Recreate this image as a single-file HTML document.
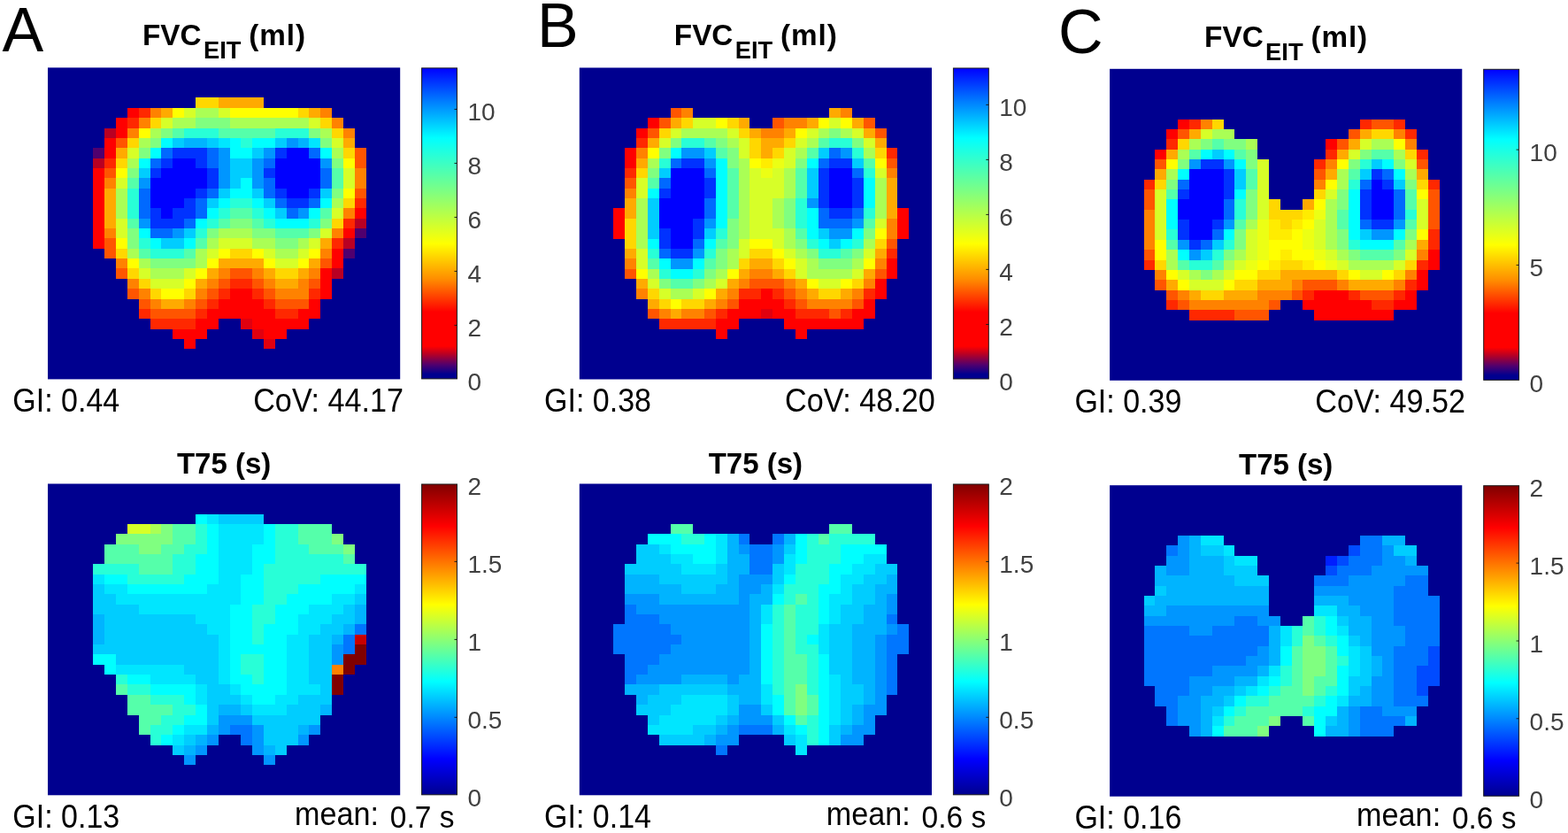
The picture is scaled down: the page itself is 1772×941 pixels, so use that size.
<!DOCTYPE html>
<html lang="en"><head><meta charset="utf-8"><title>EIT maps</title>
<style>
html,body{margin:0;padding:0;background:#fff;}
body{width:1772px;height:941px;overflow:hidden;font-family:"Liberation Sans",Arial,sans-serif;}
svg{display:block;}
text{font-family:"Liberation Sans",Arial,sans-serif;}
</style></head><body>
<svg width="1772" height="941" viewBox="0 0 1772 941" font-family="'Liberation Sans', Arial, sans-serif">
<defs><linearGradient id="gf" x1="0" y1="1" x2="0" y2="0"><stop offset="0.0" stop-color="#00008f"/><stop offset="0.015" stop-color="#00008f"/><stop offset="0.045" stop-color="#50006e"/><stop offset="0.08" stop-color="#b90023"/><stop offset="0.105" stop-color="#ff0000"/><stop offset="0.215" stop-color="#ff0000"/><stop offset="0.32" stop-color="#ff8c00"/><stop offset="0.435" stop-color="#ffff00"/><stop offset="0.6" stop-color="#80ff80"/><stop offset="0.775" stop-color="#00ffff"/><stop offset="0.89" stop-color="#0080ff"/><stop offset="1.0" stop-color="#0000ff"/></linearGradient><linearGradient id="gj" x1="0" y1="1" x2="0" y2="0"><stop offset="0.0" stop-color="#00008f"/><stop offset="0.115" stop-color="#0000ff"/><stop offset="0.365" stop-color="#00ffff"/><stop offset="0.612" stop-color="#ffff00"/><stop offset="0.865" stop-color="#ff0000"/><stop offset="1.0" stop-color="#800000"/></linearGradient></defs>
<rect width="1772" height="941" fill="#fff"/>
<g>
<rect x="54.0" y="76.4" width="398.2" height="352.0" fill="#00008f"/>
<rect x="221" y="110" width="26" height="12" fill="#ffd700"/>
<rect x="247" y="110" width="51" height="12" fill="#ffaa00"/>
<rect x="144" y="122" width="13" height="11" fill="#ff0000"/>
<rect x="157" y="122" width="13" height="11" fill="#ff2800"/>
<rect x="170" y="122" width="12" height="11" fill="#ff8200"/>
<rect x="182" y="122" width="13" height="11" fill="#ffaa00"/>
<rect x="195" y="122" width="13" height="11" fill="#ffff00"/>
<rect x="208" y="122" width="13" height="11" fill="#d7ff28"/>
<rect x="221" y="122" width="26" height="11" fill="#aaff55"/>
<rect x="247" y="122" width="13" height="11" fill="#d7ff28"/>
<rect x="260" y="122" width="77" height="11" fill="#ffff00"/>
<rect x="337" y="122" width="12" height="11" fill="#ffd700"/>
<rect x="349" y="122" width="13" height="11" fill="#ffaa00"/>
<rect x="362" y="122" width="13" height="11" fill="#ff8200"/>
<rect x="131" y="133" width="13" height="12" fill="#ff0000"/>
<rect x="144" y="133" width="13" height="12" fill="#ff2800"/>
<rect x="157" y="133" width="13" height="12" fill="#ff8200"/>
<rect x="170" y="133" width="12" height="12" fill="#ffd700"/>
<rect x="182" y="133" width="13" height="12" fill="#d7ff28"/>
<rect x="195" y="133" width="26" height="12" fill="#aaff55"/>
<rect x="221" y="133" width="39" height="12" fill="#80ff80"/>
<rect x="260" y="133" width="89" height="12" fill="#aaff55"/>
<rect x="349" y="133" width="13" height="12" fill="#d7ff28"/>
<rect x="362" y="133" width="13" height="12" fill="#ffd700"/>
<rect x="375" y="133" width="13" height="12" fill="#ff8200"/>
<rect x="118" y="145" width="13" height="11" fill="#b90023"/>
<rect x="131" y="145" width="13" height="11" fill="#ff0000"/>
<rect x="144" y="145" width="13" height="11" fill="#ff8200"/>
<rect x="157" y="145" width="13" height="11" fill="#ffff00"/>
<rect x="170" y="145" width="12" height="11" fill="#aaff55"/>
<rect x="182" y="145" width="13" height="11" fill="#80ff80"/>
<rect x="195" y="145" width="13" height="11" fill="#55ffaa"/>
<rect x="208" y="145" width="39" height="11" fill="#28ffd7"/>
<rect x="247" y="145" width="64" height="11" fill="#55ffaa"/>
<rect x="311" y="145" width="38" height="11" fill="#28ffd7"/>
<rect x="349" y="145" width="13" height="11" fill="#80ff80"/>
<rect x="362" y="145" width="13" height="11" fill="#aaff55"/>
<rect x="375" y="145" width="13" height="11" fill="#ffd700"/>
<rect x="388" y="145" width="13" height="11" fill="#ff8200"/>
<rect x="118" y="156" width="13" height="11" fill="#ff0000"/>
<rect x="131" y="156" width="13" height="11" fill="#ff5500"/>
<rect x="144" y="156" width="13" height="11" fill="#ffd700"/>
<rect x="157" y="156" width="13" height="11" fill="#aaff55"/>
<rect x="170" y="156" width="12" height="11" fill="#80ff80"/>
<rect x="182" y="156" width="13" height="11" fill="#00ffff"/>
<rect x="195" y="156" width="13" height="11" fill="#00cdff"/>
<rect x="208" y="156" width="26" height="11" fill="#00b4ff"/>
<rect x="234" y="156" width="13" height="11" fill="#00cdff"/>
<rect x="247" y="156" width="13" height="11" fill="#00e6ff"/>
<rect x="260" y="156" width="12" height="11" fill="#00ffff"/>
<rect x="272" y="156" width="13" height="11" fill="#28ffd7"/>
<rect x="285" y="156" width="26" height="11" fill="#00ffff"/>
<rect x="311" y="156" width="13" height="11" fill="#00cdff"/>
<rect x="324" y="156" width="13" height="11" fill="#0096ff"/>
<rect x="337" y="156" width="12" height="11" fill="#00b4ff"/>
<rect x="349" y="156" width="13" height="11" fill="#00e6ff"/>
<rect x="362" y="156" width="13" height="11" fill="#80ff80"/>
<rect x="375" y="156" width="13" height="11" fill="#d7ff28"/>
<rect x="388" y="156" width="13" height="11" fill="#ffaa00"/>
<rect x="105" y="167" width="13" height="12" fill="#50006e"/>
<rect x="118" y="167" width="13" height="12" fill="#ff0000"/>
<rect x="131" y="167" width="13" height="12" fill="#ffaa00"/>
<rect x="144" y="167" width="13" height="12" fill="#d7ff28"/>
<rect x="157" y="167" width="13" height="12" fill="#80ff80"/>
<rect x="170" y="167" width="12" height="12" fill="#00ffff"/>
<rect x="182" y="167" width="13" height="12" fill="#0069ff"/>
<rect x="195" y="167" width="39" height="12" fill="#0032ff"/>
<rect x="234" y="167" width="13" height="12" fill="#0069ff"/>
<rect x="247" y="167" width="13" height="12" fill="#0096ff"/>
<rect x="260" y="167" width="25" height="12" fill="#00ffff"/>
<rect x="285" y="167" width="13" height="12" fill="#00cdff"/>
<rect x="298" y="167" width="13" height="12" fill="#0096ff"/>
<rect x="311" y="167" width="13" height="12" fill="#0032ff"/>
<rect x="324" y="167" width="25" height="12" fill="#0000ff"/>
<rect x="349" y="167" width="13" height="12" fill="#0069ff"/>
<rect x="362" y="167" width="13" height="12" fill="#00ffff"/>
<rect x="375" y="167" width="13" height="12" fill="#aaff55"/>
<rect x="388" y="167" width="13" height="12" fill="#ffd700"/>
<rect x="401" y="167" width="13" height="12" fill="#ff5500"/>
<rect x="105" y="179" width="13" height="11" fill="#b90023"/>
<rect x="118" y="179" width="13" height="11" fill="#ff2800"/>
<rect x="131" y="179" width="13" height="11" fill="#ffd700"/>
<rect x="144" y="179" width="13" height="11" fill="#aaff55"/>
<rect x="157" y="179" width="13" height="11" fill="#00ffff"/>
<rect x="170" y="179" width="12" height="11" fill="#0069ff"/>
<rect x="182" y="179" width="13" height="11" fill="#0032ff"/>
<rect x="195" y="179" width="26" height="11" fill="#0000ff"/>
<rect x="221" y="179" width="13" height="11" fill="#0032ff"/>
<rect x="234" y="179" width="13" height="11" fill="#0069ff"/>
<rect x="247" y="179" width="13" height="11" fill="#0096ff"/>
<rect x="260" y="179" width="25" height="11" fill="#00cdff"/>
<rect x="285" y="179" width="13" height="11" fill="#0096ff"/>
<rect x="298" y="179" width="13" height="11" fill="#0069ff"/>
<rect x="311" y="179" width="51" height="11" fill="#0000ff"/>
<rect x="362" y="179" width="13" height="11" fill="#0096ff"/>
<rect x="375" y="179" width="13" height="11" fill="#80ff80"/>
<rect x="388" y="179" width="13" height="11" fill="#ffff00"/>
<rect x="401" y="179" width="13" height="11" fill="#ff5500"/>
<rect x="105" y="190" width="13" height="11" fill="#ff0000"/>
<rect x="118" y="190" width="13" height="11" fill="#ff5500"/>
<rect x="131" y="190" width="13" height="11" fill="#ffff00"/>
<rect x="144" y="190" width="13" height="11" fill="#80ff80"/>
<rect x="157" y="190" width="13" height="11" fill="#00cdff"/>
<rect x="170" y="190" width="12" height="11" fill="#0032ff"/>
<rect x="182" y="190" width="52" height="11" fill="#0000ff"/>
<rect x="234" y="190" width="13" height="11" fill="#0032ff"/>
<rect x="247" y="190" width="13" height="11" fill="#0096ff"/>
<rect x="260" y="190" width="25" height="11" fill="#00cdff"/>
<rect x="285" y="190" width="13" height="11" fill="#0096ff"/>
<rect x="298" y="190" width="13" height="11" fill="#0032ff"/>
<rect x="311" y="190" width="51" height="11" fill="#0000ff"/>
<rect x="362" y="190" width="13" height="11" fill="#0069ff"/>
<rect x="375" y="190" width="13" height="11" fill="#55ffaa"/>
<rect x="388" y="190" width="13" height="11" fill="#d7ff28"/>
<rect x="401" y="190" width="13" height="11" fill="#ff8200"/>
<rect x="105" y="201" width="13" height="12" fill="#ff0000"/>
<rect x="118" y="201" width="13" height="12" fill="#ff8200"/>
<rect x="131" y="201" width="13" height="12" fill="#d7ff28"/>
<rect x="144" y="201" width="13" height="12" fill="#55ffaa"/>
<rect x="157" y="201" width="13" height="12" fill="#0096ff"/>
<rect x="170" y="201" width="64" height="12" fill="#0000ff"/>
<rect x="234" y="201" width="13" height="12" fill="#0032ff"/>
<rect x="247" y="201" width="13" height="12" fill="#0096ff"/>
<rect x="260" y="201" width="12" height="12" fill="#00cdff"/>
<rect x="272" y="201" width="13" height="12" fill="#00ffff"/>
<rect x="285" y="201" width="13" height="12" fill="#0096ff"/>
<rect x="298" y="201" width="13" height="12" fill="#0069ff"/>
<rect x="311" y="201" width="51" height="12" fill="#0000ff"/>
<rect x="362" y="201" width="13" height="12" fill="#0069ff"/>
<rect x="375" y="201" width="13" height="12" fill="#55ffaa"/>
<rect x="388" y="201" width="13" height="12" fill="#d7ff28"/>
<rect x="401" y="201" width="13" height="12" fill="#ff8200"/>
<rect x="105" y="213" width="13" height="11" fill="#ff0000"/>
<rect x="118" y="213" width="13" height="11" fill="#ffaa00"/>
<rect x="131" y="213" width="13" height="11" fill="#aaff55"/>
<rect x="144" y="213" width="13" height="11" fill="#28ffd7"/>
<rect x="157" y="213" width="13" height="11" fill="#0069ff"/>
<rect x="170" y="213" width="51" height="11" fill="#0000ff"/>
<rect x="221" y="213" width="13" height="11" fill="#0032ff"/>
<rect x="234" y="213" width="13" height="11" fill="#0069ff"/>
<rect x="247" y="213" width="13" height="11" fill="#00cdff"/>
<rect x="260" y="213" width="25" height="11" fill="#00ffff"/>
<rect x="285" y="213" width="13" height="11" fill="#00cdff"/>
<rect x="298" y="213" width="13" height="11" fill="#0069ff"/>
<rect x="311" y="213" width="13" height="11" fill="#0032ff"/>
<rect x="324" y="213" width="25" height="11" fill="#0000ff"/>
<rect x="349" y="213" width="13" height="11" fill="#0032ff"/>
<rect x="362" y="213" width="13" height="11" fill="#00cdff"/>
<rect x="375" y="213" width="13" height="11" fill="#80ff80"/>
<rect x="388" y="213" width="13" height="11" fill="#ffff00"/>
<rect x="401" y="213" width="13" height="11" fill="#ff5500"/>
<rect x="105" y="224" width="13" height="11" fill="#ff0000"/>
<rect x="118" y="224" width="13" height="11" fill="#ffaa00"/>
<rect x="131" y="224" width="13" height="11" fill="#aaff55"/>
<rect x="144" y="224" width="13" height="11" fill="#28ffd7"/>
<rect x="157" y="224" width="13" height="11" fill="#0069ff"/>
<rect x="170" y="224" width="38" height="11" fill="#0000ff"/>
<rect x="208" y="224" width="13" height="11" fill="#0032ff"/>
<rect x="221" y="224" width="13" height="11" fill="#0069ff"/>
<rect x="234" y="224" width="13" height="11" fill="#00cdff"/>
<rect x="247" y="224" width="13" height="11" fill="#00ffff"/>
<rect x="260" y="224" width="25" height="11" fill="#28ffd7"/>
<rect x="285" y="224" width="13" height="11" fill="#00ffff"/>
<rect x="298" y="224" width="13" height="11" fill="#00cdff"/>
<rect x="311" y="224" width="13" height="11" fill="#0069ff"/>
<rect x="324" y="224" width="25" height="11" fill="#0032ff"/>
<rect x="349" y="224" width="13" height="11" fill="#0069ff"/>
<rect x="362" y="224" width="13" height="11" fill="#00ffff"/>
<rect x="375" y="224" width="13" height="11" fill="#aaff55"/>
<rect x="388" y="224" width="13" height="11" fill="#ffd700"/>
<rect x="401" y="224" width="13" height="11" fill="#ff2800"/>
<rect x="105" y="235" width="13" height="12" fill="#ff0000"/>
<rect x="118" y="235" width="13" height="12" fill="#ffaa00"/>
<rect x="131" y="235" width="13" height="12" fill="#aaff55"/>
<rect x="144" y="235" width="13" height="12" fill="#28ffd7"/>
<rect x="157" y="235" width="13" height="12" fill="#0069ff"/>
<rect x="170" y="235" width="12" height="12" fill="#0032ff"/>
<rect x="182" y="235" width="13" height="12" fill="#0000ff"/>
<rect x="195" y="235" width="26" height="12" fill="#0032ff"/>
<rect x="221" y="235" width="13" height="12" fill="#0069ff"/>
<rect x="234" y="235" width="13" height="12" fill="#00ffff"/>
<rect x="247" y="235" width="13" height="12" fill="#28ffd7"/>
<rect x="260" y="235" width="25" height="12" fill="#55ffaa"/>
<rect x="285" y="235" width="13" height="12" fill="#28ffd7"/>
<rect x="298" y="235" width="13" height="12" fill="#00ffff"/>
<rect x="311" y="235" width="13" height="12" fill="#00cdff"/>
<rect x="324" y="235" width="13" height="12" fill="#0069ff"/>
<rect x="337" y="235" width="12" height="12" fill="#0096ff"/>
<rect x="349" y="235" width="13" height="12" fill="#00ffff"/>
<rect x="362" y="235" width="13" height="12" fill="#55ffaa"/>
<rect x="375" y="235" width="13" height="12" fill="#d7ff28"/>
<rect x="388" y="235" width="13" height="12" fill="#ff8200"/>
<rect x="401" y="235" width="13" height="12" fill="#ff0000"/>
<rect x="105" y="247" width="13" height="11" fill="#ff0000"/>
<rect x="118" y="247" width="13" height="11" fill="#ffaa00"/>
<rect x="131" y="247" width="13" height="11" fill="#d7ff28"/>
<rect x="144" y="247" width="13" height="11" fill="#55ffaa"/>
<rect x="157" y="247" width="13" height="11" fill="#0096ff"/>
<rect x="170" y="247" width="38" height="11" fill="#0032ff"/>
<rect x="208" y="247" width="13" height="11" fill="#0069ff"/>
<rect x="221" y="247" width="13" height="11" fill="#00ffff"/>
<rect x="234" y="247" width="13" height="11" fill="#28ffd7"/>
<rect x="247" y="247" width="13" height="11" fill="#55ffaa"/>
<rect x="260" y="247" width="25" height="11" fill="#80ff80"/>
<rect x="285" y="247" width="13" height="11" fill="#55ffaa"/>
<rect x="298" y="247" width="13" height="11" fill="#28ffd7"/>
<rect x="311" y="247" width="38" height="11" fill="#00ffff"/>
<rect x="349" y="247" width="13" height="11" fill="#28ffd7"/>
<rect x="362" y="247" width="13" height="11" fill="#80ff80"/>
<rect x="375" y="247" width="13" height="11" fill="#ffd700"/>
<rect x="388" y="247" width="13" height="11" fill="#ff2800"/>
<rect x="401" y="247" width="13" height="11" fill="#b90023"/>
<rect x="105" y="258" width="13" height="11" fill="#ff0000"/>
<rect x="118" y="258" width="13" height="11" fill="#ff8200"/>
<rect x="131" y="258" width="13" height="11" fill="#d7ff28"/>
<rect x="144" y="258" width="13" height="11" fill="#80ff80"/>
<rect x="157" y="258" width="13" height="11" fill="#00ffff"/>
<rect x="170" y="258" width="25" height="11" fill="#0069ff"/>
<rect x="195" y="258" width="13" height="11" fill="#0096ff"/>
<rect x="208" y="258" width="13" height="11" fill="#00cdff"/>
<rect x="221" y="258" width="13" height="11" fill="#28ffd7"/>
<rect x="234" y="258" width="13" height="11" fill="#80ff80"/>
<rect x="247" y="258" width="38" height="11" fill="#aaff55"/>
<rect x="285" y="258" width="26" height="11" fill="#80ff80"/>
<rect x="311" y="258" width="38" height="11" fill="#55ffaa"/>
<rect x="349" y="258" width="13" height="11" fill="#80ff80"/>
<rect x="362" y="258" width="13" height="11" fill="#d7ff28"/>
<rect x="375" y="258" width="13" height="11" fill="#ff8200"/>
<rect x="388" y="258" width="13" height="11" fill="#ff0000"/>
<rect x="401" y="258" width="13" height="11" fill="#50006e"/>
<rect x="105" y="269" width="13" height="12" fill="#ff0000"/>
<rect x="118" y="269" width="13" height="12" fill="#ff5500"/>
<rect x="131" y="269" width="13" height="12" fill="#ffff00"/>
<rect x="144" y="269" width="13" height="12" fill="#80ff80"/>
<rect x="157" y="269" width="13" height="12" fill="#28ffd7"/>
<rect x="170" y="269" width="12" height="12" fill="#00ffff"/>
<rect x="182" y="269" width="26" height="12" fill="#00cdff"/>
<rect x="208" y="269" width="13" height="12" fill="#00ffff"/>
<rect x="221" y="269" width="13" height="12" fill="#55ffaa"/>
<rect x="234" y="269" width="13" height="12" fill="#aaff55"/>
<rect x="247" y="269" width="38" height="12" fill="#d7ff28"/>
<rect x="285" y="269" width="26" height="12" fill="#aaff55"/>
<rect x="311" y="269" width="26" height="12" fill="#80ff80"/>
<rect x="337" y="269" width="12" height="12" fill="#aaff55"/>
<rect x="349" y="269" width="13" height="12" fill="#d7ff28"/>
<rect x="362" y="269" width="13" height="12" fill="#ffaa00"/>
<rect x="375" y="269" width="13" height="12" fill="#ff2800"/>
<rect x="388" y="269" width="13" height="12" fill="#b90023"/>
<rect x="118" y="281" width="13" height="11" fill="#ff5500"/>
<rect x="131" y="281" width="13" height="11" fill="#ffd700"/>
<rect x="144" y="281" width="13" height="11" fill="#aaff55"/>
<rect x="157" y="281" width="13" height="11" fill="#55ffaa"/>
<rect x="170" y="281" width="38" height="11" fill="#28ffd7"/>
<rect x="208" y="281" width="13" height="11" fill="#55ffaa"/>
<rect x="221" y="281" width="13" height="11" fill="#aaff55"/>
<rect x="234" y="281" width="13" height="11" fill="#d7ff28"/>
<rect x="247" y="281" width="13" height="11" fill="#ffff00"/>
<rect x="260" y="281" width="25" height="11" fill="#ffd700"/>
<rect x="285" y="281" width="13" height="11" fill="#ffff00"/>
<rect x="298" y="281" width="13" height="11" fill="#d7ff28"/>
<rect x="311" y="281" width="26" height="11" fill="#aaff55"/>
<rect x="337" y="281" width="12" height="11" fill="#d7ff28"/>
<rect x="349" y="281" width="13" height="11" fill="#ffff00"/>
<rect x="362" y="281" width="13" height="11" fill="#ff8200"/>
<rect x="375" y="281" width="13" height="11" fill="#ff0000"/>
<rect x="388" y="281" width="13" height="11" fill="#50006e"/>
<rect x="131" y="292" width="13" height="11" fill="#ff8200"/>
<rect x="144" y="292" width="13" height="11" fill="#ffff00"/>
<rect x="157" y="292" width="13" height="11" fill="#aaff55"/>
<rect x="170" y="292" width="51" height="11" fill="#80ff80"/>
<rect x="221" y="292" width="13" height="11" fill="#aaff55"/>
<rect x="234" y="292" width="13" height="11" fill="#ffff00"/>
<rect x="247" y="292" width="51" height="11" fill="#ffaa00"/>
<rect x="298" y="292" width="13" height="11" fill="#ffff00"/>
<rect x="311" y="292" width="26" height="11" fill="#d7ff28"/>
<rect x="337" y="292" width="12" height="11" fill="#ffff00"/>
<rect x="349" y="292" width="13" height="11" fill="#ffaa00"/>
<rect x="362" y="292" width="13" height="11" fill="#ff5500"/>
<rect x="375" y="292" width="13" height="11" fill="#ff0000"/>
<rect x="131" y="303" width="13" height="12" fill="#ff5500"/>
<rect x="144" y="303" width="13" height="12" fill="#ffd700"/>
<rect x="157" y="303" width="13" height="12" fill="#d7ff28"/>
<rect x="170" y="303" width="38" height="12" fill="#aaff55"/>
<rect x="208" y="303" width="13" height="12" fill="#d7ff28"/>
<rect x="221" y="303" width="13" height="12" fill="#ffff00"/>
<rect x="234" y="303" width="13" height="12" fill="#ffaa00"/>
<rect x="247" y="303" width="13" height="12" fill="#ff8200"/>
<rect x="260" y="303" width="25" height="12" fill="#ff5500"/>
<rect x="285" y="303" width="13" height="12" fill="#ff8200"/>
<rect x="298" y="303" width="13" height="12" fill="#ffaa00"/>
<rect x="311" y="303" width="26" height="12" fill="#ffd700"/>
<rect x="337" y="303" width="12" height="12" fill="#ffaa00"/>
<rect x="349" y="303" width="13" height="12" fill="#ff8200"/>
<rect x="362" y="303" width="13" height="12" fill="#ff0000"/>
<rect x="375" y="303" width="13" height="12" fill="#b90023"/>
<rect x="144" y="315" width="13" height="11" fill="#ff8200"/>
<rect x="157" y="315" width="13" height="11" fill="#ffd700"/>
<rect x="170" y="315" width="38" height="11" fill="#d7ff28"/>
<rect x="208" y="315" width="13" height="11" fill="#ffff00"/>
<rect x="221" y="315" width="13" height="11" fill="#ffaa00"/>
<rect x="234" y="315" width="13" height="11" fill="#ff8200"/>
<rect x="247" y="315" width="13" height="11" fill="#ff5500"/>
<rect x="260" y="315" width="25" height="11" fill="#ff2800"/>
<rect x="285" y="315" width="13" height="11" fill="#ff5500"/>
<rect x="298" y="315" width="13" height="11" fill="#ff8200"/>
<rect x="311" y="315" width="26" height="11" fill="#ffaa00"/>
<rect x="337" y="315" width="12" height="11" fill="#ff8200"/>
<rect x="349" y="315" width="13" height="11" fill="#ff5500"/>
<rect x="362" y="315" width="13" height="11" fill="#ff0000"/>
<rect x="144" y="326" width="13" height="12" fill="#ff5500"/>
<rect x="157" y="326" width="13" height="12" fill="#ff8200"/>
<rect x="170" y="326" width="12" height="12" fill="#ffd700"/>
<rect x="182" y="326" width="26" height="12" fill="#ffff00"/>
<rect x="208" y="326" width="13" height="12" fill="#ffd700"/>
<rect x="221" y="326" width="13" height="12" fill="#ff8200"/>
<rect x="234" y="326" width="13" height="12" fill="#ff5500"/>
<rect x="247" y="326" width="13" height="12" fill="#ff2800"/>
<rect x="260" y="326" width="25" height="12" fill="#ff0000"/>
<rect x="285" y="326" width="13" height="12" fill="#ff2800"/>
<rect x="298" y="326" width="13" height="12" fill="#ff5500"/>
<rect x="311" y="326" width="38" height="12" fill="#ff8200"/>
<rect x="349" y="326" width="13" height="12" fill="#ff2800"/>
<rect x="362" y="326" width="13" height="12" fill="#ff0000"/>
<rect x="157" y="338" width="13" height="11" fill="#ff5500"/>
<rect x="170" y="338" width="12" height="11" fill="#ff8200"/>
<rect x="182" y="338" width="26" height="11" fill="#ffaa00"/>
<rect x="208" y="338" width="13" height="11" fill="#ff8200"/>
<rect x="221" y="338" width="13" height="11" fill="#ff5500"/>
<rect x="234" y="338" width="13" height="11" fill="#ff2800"/>
<rect x="247" y="338" width="51" height="11" fill="#ff0000"/>
<rect x="298" y="338" width="13" height="11" fill="#ff2800"/>
<rect x="311" y="338" width="38" height="11" fill="#ff5500"/>
<rect x="349" y="338" width="13" height="11" fill="#ff0000"/>
<rect x="157" y="349" width="13" height="11" fill="#ff2800"/>
<rect x="170" y="349" width="51" height="11" fill="#ff5500"/>
<rect x="221" y="349" width="13" height="11" fill="#ff2800"/>
<rect x="234" y="349" width="77" height="11" fill="#ff0000"/>
<rect x="311" y="349" width="26" height="11" fill="#ff2800"/>
<rect x="337" y="349" width="25" height="11" fill="#ff0000"/>
<rect x="170" y="360" width="51" height="12" fill="#ff2800"/>
<rect x="221" y="360" width="26" height="12" fill="#ff0000"/>
<rect x="272" y="360" width="13" height="12" fill="#e1000f"/>
<rect x="285" y="360" width="64" height="12" fill="#ff0000"/>
<rect x="195" y="372" width="39" height="11" fill="#ff0000"/>
<rect x="285" y="372" width="13" height="11" fill="#e1000f"/>
<rect x="298" y="372" width="26" height="11" fill="#ff0000"/>
<rect x="208" y="383" width="13" height="11" fill="#ff0000"/>
<rect x="298" y="383" width="13" height="11" fill="#e1000f"/>
</g>
<g>
<rect x="54.0" y="546.5" width="398.2" height="351.8" fill="#00008f"/>
<rect x="221" y="581" width="13" height="11" fill="#00ffff"/>
<rect x="234" y="581" width="13" height="11" fill="#00e6ff"/>
<rect x="247" y="581" width="51" height="11" fill="#00cdff"/>
<rect x="144" y="592" width="26" height="11" fill="#d7ff28"/>
<rect x="170" y="592" width="12" height="11" fill="#aaff55"/>
<rect x="182" y="592" width="13" height="11" fill="#80ff80"/>
<rect x="195" y="592" width="26" height="11" fill="#55ffaa"/>
<rect x="221" y="592" width="13" height="11" fill="#28ffd7"/>
<rect x="234" y="592" width="13" height="11" fill="#00ffff"/>
<rect x="247" y="592" width="51" height="11" fill="#00e6ff"/>
<rect x="298" y="592" width="13" height="11" fill="#00ffff"/>
<rect x="311" y="592" width="26" height="11" fill="#28ffd7"/>
<rect x="337" y="592" width="38" height="11" fill="#55ffaa"/>
<rect x="131" y="603" width="64" height="12" fill="#80ff80"/>
<rect x="195" y="603" width="26" height="12" fill="#55ffaa"/>
<rect x="221" y="603" width="13" height="12" fill="#28ffd7"/>
<rect x="234" y="603" width="13" height="12" fill="#00ffff"/>
<rect x="247" y="603" width="51" height="12" fill="#00e6ff"/>
<rect x="298" y="603" width="13" height="12" fill="#00ffff"/>
<rect x="311" y="603" width="26" height="12" fill="#28ffd7"/>
<rect x="337" y="603" width="38" height="12" fill="#55ffaa"/>
<rect x="375" y="603" width="13" height="12" fill="#80ff80"/>
<rect x="118" y="615" width="39" height="11" fill="#55ffaa"/>
<rect x="157" y="615" width="25" height="11" fill="#80ff80"/>
<rect x="182" y="615" width="26" height="11" fill="#55ffaa"/>
<rect x="208" y="615" width="26" height="11" fill="#28ffd7"/>
<rect x="234" y="615" width="13" height="11" fill="#00ffff"/>
<rect x="247" y="615" width="38" height="11" fill="#00e6ff"/>
<rect x="285" y="615" width="26" height="11" fill="#00ffff"/>
<rect x="311" y="615" width="38" height="11" fill="#28ffd7"/>
<rect x="349" y="615" width="39" height="11" fill="#55ffaa"/>
<rect x="388" y="615" width="13" height="11" fill="#80ff80"/>
<rect x="118" y="626" width="77" height="11" fill="#55ffaa"/>
<rect x="195" y="626" width="26" height="11" fill="#28ffd7"/>
<rect x="221" y="626" width="26" height="11" fill="#00ffff"/>
<rect x="247" y="626" width="38" height="11" fill="#00e6ff"/>
<rect x="285" y="626" width="26" height="11" fill="#00ffff"/>
<rect x="311" y="626" width="77" height="11" fill="#28ffd7"/>
<rect x="388" y="626" width="13" height="11" fill="#55ffaa"/>
<rect x="105" y="637" width="52" height="12" fill="#28ffd7"/>
<rect x="157" y="637" width="38" height="12" fill="#55ffaa"/>
<rect x="195" y="637" width="26" height="12" fill="#28ffd7"/>
<rect x="221" y="637" width="26" height="12" fill="#00ffff"/>
<rect x="247" y="637" width="38" height="12" fill="#00e6ff"/>
<rect x="285" y="637" width="13" height="12" fill="#00ffff"/>
<rect x="298" y="637" width="116" height="12" fill="#28ffd7"/>
<rect x="105" y="649" width="13" height="11" fill="#00e6ff"/>
<rect x="118" y="649" width="26" height="11" fill="#00ffff"/>
<rect x="144" y="649" width="64" height="11" fill="#28ffd7"/>
<rect x="208" y="649" width="39" height="11" fill="#00ffff"/>
<rect x="247" y="649" width="25" height="11" fill="#00e6ff"/>
<rect x="272" y="649" width="26" height="11" fill="#00ffff"/>
<rect x="298" y="649" width="64" height="11" fill="#28ffd7"/>
<rect x="362" y="649" width="52" height="11" fill="#00ffff"/>
<rect x="105" y="660" width="13" height="11" fill="#00cdff"/>
<rect x="118" y="660" width="26" height="11" fill="#00e6ff"/>
<rect x="144" y="660" width="90" height="11" fill="#00ffff"/>
<rect x="234" y="660" width="38" height="11" fill="#00e6ff"/>
<rect x="272" y="660" width="26" height="11" fill="#00ffff"/>
<rect x="298" y="660" width="39" height="11" fill="#28ffd7"/>
<rect x="337" y="660" width="64" height="11" fill="#00ffff"/>
<rect x="401" y="660" width="13" height="11" fill="#00e6ff"/>
<rect x="105" y="671" width="26" height="12" fill="#00cdff"/>
<rect x="131" y="671" width="141" height="12" fill="#00e6ff"/>
<rect x="272" y="671" width="26" height="12" fill="#00ffff"/>
<rect x="298" y="671" width="26" height="12" fill="#28ffd7"/>
<rect x="324" y="671" width="51" height="12" fill="#00ffff"/>
<rect x="375" y="671" width="26" height="12" fill="#00e6ff"/>
<rect x="401" y="671" width="13" height="12" fill="#00cdff"/>
<rect x="105" y="683" width="52" height="11" fill="#00cdff"/>
<rect x="157" y="683" width="103" height="11" fill="#00e6ff"/>
<rect x="260" y="683" width="25" height="11" fill="#00ffff"/>
<rect x="285" y="683" width="26" height="11" fill="#28ffd7"/>
<rect x="311" y="683" width="38" height="11" fill="#00ffff"/>
<rect x="349" y="683" width="39" height="11" fill="#00e6ff"/>
<rect x="388" y="683" width="13" height="11" fill="#00cdff"/>
<rect x="401" y="683" width="13" height="11" fill="#00b4ff"/>
<rect x="105" y="694" width="13" height="11" fill="#00b4ff"/>
<rect x="118" y="694" width="103" height="11" fill="#00cdff"/>
<rect x="221" y="694" width="39" height="11" fill="#00e6ff"/>
<rect x="260" y="694" width="25" height="11" fill="#00ffff"/>
<rect x="285" y="694" width="26" height="11" fill="#28ffd7"/>
<rect x="311" y="694" width="26" height="11" fill="#00ffff"/>
<rect x="337" y="694" width="38" height="11" fill="#00e6ff"/>
<rect x="375" y="694" width="26" height="11" fill="#00cdff"/>
<rect x="401" y="694" width="13" height="11" fill="#00b4ff"/>
<rect x="105" y="705" width="13" height="12" fill="#00b4ff"/>
<rect x="118" y="705" width="116" height="12" fill="#00cdff"/>
<rect x="234" y="705" width="26" height="12" fill="#00e6ff"/>
<rect x="260" y="705" width="25" height="12" fill="#00ffff"/>
<rect x="285" y="705" width="13" height="12" fill="#28ffd7"/>
<rect x="298" y="705" width="39" height="12" fill="#00ffff"/>
<rect x="337" y="705" width="25" height="12" fill="#00e6ff"/>
<rect x="362" y="705" width="26" height="12" fill="#00cdff"/>
<rect x="388" y="705" width="13" height="12" fill="#00b4ff"/>
<rect x="401" y="705" width="13" height="12" fill="#0076ff"/>
<rect x="105" y="717" width="13" height="11" fill="#00b4ff"/>
<rect x="118" y="717" width="129" height="11" fill="#00cdff"/>
<rect x="247" y="717" width="13" height="11" fill="#00e6ff"/>
<rect x="260" y="717" width="25" height="11" fill="#00ffff"/>
<rect x="285" y="717" width="13" height="11" fill="#28ffd7"/>
<rect x="298" y="717" width="26" height="11" fill="#00ffff"/>
<rect x="324" y="717" width="25" height="11" fill="#00e6ff"/>
<rect x="349" y="717" width="26" height="11" fill="#00cdff"/>
<rect x="375" y="717" width="13" height="11" fill="#00b4ff"/>
<rect x="388" y="717" width="13" height="11" fill="#0076ff"/>
<rect x="401" y="717" width="13" height="11" fill="#c80000"/>
<rect x="105" y="728" width="142" height="11" fill="#00cdff"/>
<rect x="247" y="728" width="13" height="11" fill="#00e6ff"/>
<rect x="260" y="728" width="64" height="11" fill="#00ffff"/>
<rect x="324" y="728" width="25" height="11" fill="#00e6ff"/>
<rect x="349" y="728" width="26" height="11" fill="#00cdff"/>
<rect x="375" y="728" width="13" height="11" fill="#0096ff"/>
<rect x="388" y="728" width="13" height="11" fill="#0076ff"/>
<rect x="401" y="728" width="13" height="11" fill="#800000"/>
<rect x="105" y="739" width="26" height="12" fill="#00ffff"/>
<rect x="131" y="739" width="116" height="12" fill="#00cdff"/>
<rect x="247" y="739" width="13" height="12" fill="#00e6ff"/>
<rect x="260" y="739" width="12" height="12" fill="#00ffff"/>
<rect x="272" y="739" width="26" height="12" fill="#28ffd7"/>
<rect x="298" y="739" width="26" height="12" fill="#00ffff"/>
<rect x="324" y="739" width="25" height="12" fill="#00e6ff"/>
<rect x="349" y="739" width="26" height="12" fill="#00cdff"/>
<rect x="375" y="739" width="13" height="12" fill="#0096ff"/>
<rect x="388" y="739" width="26" height="12" fill="#800000"/>
<rect x="118" y="751" width="13" height="11" fill="#00ffff"/>
<rect x="131" y="751" width="77" height="11" fill="#00e6ff"/>
<rect x="208" y="751" width="39" height="11" fill="#00cdff"/>
<rect x="247" y="751" width="13" height="11" fill="#00e6ff"/>
<rect x="260" y="751" width="12" height="11" fill="#00ffff"/>
<rect x="272" y="751" width="26" height="11" fill="#28ffd7"/>
<rect x="298" y="751" width="26" height="11" fill="#00ffff"/>
<rect x="324" y="751" width="25" height="11" fill="#00e6ff"/>
<rect x="349" y="751" width="26" height="11" fill="#00cdff"/>
<rect x="375" y="751" width="13" height="11" fill="#ff8200"/>
<rect x="388" y="751" width="13" height="11" fill="#800000"/>
<rect x="131" y="762" width="13" height="11" fill="#28ffd7"/>
<rect x="144" y="762" width="26" height="11" fill="#00ffff"/>
<rect x="170" y="762" width="51" height="11" fill="#00e6ff"/>
<rect x="221" y="762" width="26" height="11" fill="#00cdff"/>
<rect x="247" y="762" width="13" height="11" fill="#00e6ff"/>
<rect x="260" y="762" width="25" height="11" fill="#00ffff"/>
<rect x="285" y="762" width="13" height="11" fill="#28ffd7"/>
<rect x="298" y="762" width="26" height="11" fill="#00ffff"/>
<rect x="324" y="762" width="25" height="11" fill="#00e6ff"/>
<rect x="349" y="762" width="26" height="11" fill="#00cdff"/>
<rect x="375" y="762" width="13" height="11" fill="#800000"/>
<rect x="131" y="773" width="13" height="12" fill="#55ffaa"/>
<rect x="144" y="773" width="26" height="12" fill="#28ffd7"/>
<rect x="170" y="773" width="51" height="12" fill="#00ffff"/>
<rect x="221" y="773" width="13" height="12" fill="#00e6ff"/>
<rect x="234" y="773" width="26" height="12" fill="#00cdff"/>
<rect x="260" y="773" width="12" height="12" fill="#00e6ff"/>
<rect x="272" y="773" width="52" height="12" fill="#00ffff"/>
<rect x="324" y="773" width="38" height="12" fill="#00e6ff"/>
<rect x="362" y="773" width="13" height="12" fill="#00cdff"/>
<rect x="375" y="773" width="13" height="12" fill="#800000"/>
<rect x="144" y="785" width="26" height="11" fill="#55ffaa"/>
<rect x="170" y="785" width="38" height="11" fill="#28ffd7"/>
<rect x="208" y="785" width="13" height="11" fill="#00ffff"/>
<rect x="221" y="785" width="13" height="11" fill="#00e6ff"/>
<rect x="234" y="785" width="38" height="11" fill="#00cdff"/>
<rect x="272" y="785" width="13" height="11" fill="#00e6ff"/>
<rect x="285" y="785" width="26" height="11" fill="#00ffff"/>
<rect x="311" y="785" width="26" height="11" fill="#00e6ff"/>
<rect x="337" y="785" width="38" height="11" fill="#00cdff"/>
<rect x="144" y="796" width="51" height="12" fill="#55ffaa"/>
<rect x="195" y="796" width="26" height="12" fill="#28ffd7"/>
<rect x="221" y="796" width="13" height="12" fill="#00ffff"/>
<rect x="234" y="796" width="13" height="12" fill="#00cdff"/>
<rect x="247" y="796" width="25" height="12" fill="#00b4ff"/>
<rect x="272" y="796" width="13" height="12" fill="#00cdff"/>
<rect x="285" y="796" width="39" height="12" fill="#00e6ff"/>
<rect x="324" y="796" width="38" height="12" fill="#00cdff"/>
<rect x="362" y="796" width="13" height="12" fill="#00b4ff"/>
<rect x="157" y="808" width="25" height="11" fill="#55ffaa"/>
<rect x="182" y="808" width="26" height="11" fill="#28ffd7"/>
<rect x="208" y="808" width="26" height="11" fill="#00ffff"/>
<rect x="234" y="808" width="13" height="11" fill="#00cdff"/>
<rect x="247" y="808" width="38" height="11" fill="#0096ff"/>
<rect x="285" y="808" width="77" height="11" fill="#00cdff"/>
<rect x="157" y="819" width="13" height="11" fill="#55ffaa"/>
<rect x="170" y="819" width="25" height="11" fill="#28ffd7"/>
<rect x="195" y="819" width="13" height="11" fill="#00ffff"/>
<rect x="208" y="819" width="26" height="11" fill="#00e6ff"/>
<rect x="234" y="819" width="13" height="11" fill="#00b4ff"/>
<rect x="247" y="819" width="13" height="11" fill="#0096ff"/>
<rect x="260" y="819" width="25" height="11" fill="#0076ff"/>
<rect x="285" y="819" width="13" height="11" fill="#0096ff"/>
<rect x="298" y="819" width="39" height="11" fill="#00cdff"/>
<rect x="337" y="819" width="12" height="11" fill="#00b4ff"/>
<rect x="349" y="819" width="13" height="11" fill="#0096ff"/>
<rect x="170" y="830" width="12" height="12" fill="#28ffd7"/>
<rect x="182" y="830" width="13" height="12" fill="#00ffff"/>
<rect x="195" y="830" width="13" height="12" fill="#00e6ff"/>
<rect x="208" y="830" width="13" height="12" fill="#00cdff"/>
<rect x="221" y="830" width="13" height="12" fill="#00b4ff"/>
<rect x="234" y="830" width="13" height="12" fill="#0096ff"/>
<rect x="272" y="830" width="13" height="12" fill="#0076ff"/>
<rect x="285" y="830" width="13" height="12" fill="#0096ff"/>
<rect x="298" y="830" width="39" height="12" fill="#00cdff"/>
<rect x="337" y="830" width="12" height="12" fill="#0096ff"/>
<rect x="195" y="842" width="13" height="11" fill="#00cdff"/>
<rect x="208" y="842" width="13" height="11" fill="#00b4ff"/>
<rect x="221" y="842" width="13" height="11" fill="#0096ff"/>
<rect x="285" y="842" width="13" height="11" fill="#0096ff"/>
<rect x="298" y="842" width="13" height="11" fill="#00b4ff"/>
<rect x="311" y="842" width="13" height="11" fill="#00cdff"/>
<rect x="208" y="853" width="13" height="11" fill="#0096ff"/>
<rect x="298" y="853" width="13" height="11" fill="#0096ff"/>
</g>
<rect x="476.6" y="76.9" width="39.9" height="351.0" fill="url(#gf)" stroke="#1a1a1a" stroke-width="1"/>
<text x="528.5" y="441.3" font-size="28" fill="#404040">0</text>
<line x1="513.5" y1="367.4" x2="516.5" y2="367.4" stroke="#1a1a1a" stroke-width="1"/>
<text x="528.5" y="380.3" font-size="28" fill="#404040">2</text>
<line x1="513.5" y1="306.4" x2="516.5" y2="306.4" stroke="#1a1a1a" stroke-width="1"/>
<text x="528.5" y="319.3" font-size="28" fill="#404040">4</text>
<line x1="513.5" y1="245.4" x2="516.5" y2="245.4" stroke="#1a1a1a" stroke-width="1"/>
<text x="528.5" y="258.3" font-size="28" fill="#404040">6</text>
<line x1="513.5" y1="184.4" x2="516.5" y2="184.4" stroke="#1a1a1a" stroke-width="1"/>
<text x="528.5" y="197.3" font-size="28" fill="#404040">8</text>
<line x1="513.5" y1="123.4" x2="516.5" y2="123.4" stroke="#1a1a1a" stroke-width="1"/>
<text x="528.5" y="136.3" font-size="28" fill="#404040">10</text>
<rect x="476.6" y="547.0" width="39.9" height="350.8" fill="url(#gj)" stroke="#1a1a1a" stroke-width="1"/>
<text x="528.5" y="911.2" font-size="28" fill="#404040">0</text>
<line x1="513.5" y1="810.3" x2="516.5" y2="810.3" stroke="#1a1a1a" stroke-width="1"/>
<text x="528.5" y="823.2" font-size="28" fill="#404040">0.5</text>
<line x1="513.5" y1="722.4" x2="516.5" y2="722.4" stroke="#1a1a1a" stroke-width="1"/>
<text x="528.5" y="735.3" font-size="28" fill="#404040">1</text>
<line x1="513.5" y1="634.4" x2="516.5" y2="634.4" stroke="#1a1a1a" stroke-width="1"/>
<text x="528.5" y="647.3" font-size="28" fill="#404040">1.5</text>
<text x="528.5" y="559.4" font-size="28" fill="#404040">2</text>
<text x="2.6" y="58.0" font-size="70">A</text>
<text x="161.0" y="50.7" font-size="33.3" font-weight="bold">FVC</text><text x="230.0" y="65.9" font-size="27.3" font-weight="bold">EIT</text><text x="281.3" y="50.7" font-size="33.3" font-weight="bold" letter-spacing="0.9">(ml)</text>
<text x="253.1" y="534.5" font-size="33" font-weight="bold" text-anchor="middle">T75 (s)</text>
<text transform="translate(14.3,465.1) scale(1,1.075)" font-size="34" text-anchor="start">GI: 0.44</text>
<text transform="translate(456.0,465.1) scale(1,1.075)" font-size="34.2" text-anchor="end">CoV: 44.17</text>
<text transform="translate(14.3,934.7) scale(1,1.075)" font-size="34" text-anchor="start">GI: 0.13</text>
<text transform="translate(333.0,931.7) scale(1,1.075)" font-size="34.2" text-anchor="start">mean:</text>
<text transform="translate(440.8,934.8) scale(1,1.05)" font-size="33.5" text-anchor="start">0.7 s</text>
<g>
<rect x="654.8" y="76.5" width="398.2" height="352.0" fill="#00008f"/>
<rect x="758" y="122" width="12" height="11" fill="#ff5500"/>
<rect x="770" y="122" width="13" height="11" fill="#ff8200"/>
<rect x="937" y="122" width="13" height="11" fill="#ffaa00"/>
<rect x="950" y="122" width="13" height="11" fill="#ff8200"/>
<rect x="732" y="133" width="13" height="12" fill="#ff0000"/>
<rect x="745" y="133" width="13" height="12" fill="#ff5500"/>
<rect x="758" y="133" width="12" height="12" fill="#ffaa00"/>
<rect x="770" y="133" width="13" height="12" fill="#ffd700"/>
<rect x="783" y="133" width="26" height="12" fill="#d7ff28"/>
<rect x="809" y="133" width="13" height="12" fill="#ffff00"/>
<rect x="822" y="133" width="13" height="12" fill="#ffd700"/>
<rect x="835" y="133" width="12" height="12" fill="#ffaa00"/>
<rect x="873" y="133" width="13" height="12" fill="#ff5500"/>
<rect x="886" y="133" width="26" height="12" fill="#ff8200"/>
<rect x="912" y="133" width="13" height="12" fill="#ffaa00"/>
<rect x="925" y="133" width="12" height="12" fill="#ffff00"/>
<rect x="937" y="133" width="13" height="12" fill="#d7ff28"/>
<rect x="950" y="133" width="13" height="12" fill="#ffff00"/>
<rect x="963" y="133" width="13" height="12" fill="#ffaa00"/>
<rect x="976" y="133" width="13" height="12" fill="#ff5500"/>
<rect x="719" y="145" width="13" height="11" fill="#ff0000"/>
<rect x="732" y="145" width="13" height="11" fill="#ff5500"/>
<rect x="745" y="145" width="13" height="11" fill="#ffd700"/>
<rect x="758" y="145" width="12" height="11" fill="#d7ff28"/>
<rect x="770" y="145" width="52" height="11" fill="#aaff55"/>
<rect x="822" y="145" width="13" height="11" fill="#d7ff28"/>
<rect x="835" y="145" width="12" height="11" fill="#ffd700"/>
<rect x="847" y="145" width="13" height="11" fill="#ffaa00"/>
<rect x="860" y="145" width="26" height="11" fill="#ff8200"/>
<rect x="886" y="145" width="13" height="11" fill="#ffaa00"/>
<rect x="899" y="145" width="13" height="11" fill="#ffff00"/>
<rect x="912" y="145" width="13" height="11" fill="#d7ff28"/>
<rect x="925" y="145" width="12" height="11" fill="#aaff55"/>
<rect x="937" y="145" width="13" height="11" fill="#80ff80"/>
<rect x="950" y="145" width="13" height="11" fill="#aaff55"/>
<rect x="963" y="145" width="13" height="11" fill="#d7ff28"/>
<rect x="976" y="145" width="13" height="11" fill="#ffaa00"/>
<rect x="989" y="145" width="13" height="11" fill="#ff5500"/>
<rect x="719" y="156" width="13" height="11" fill="#ff2800"/>
<rect x="732" y="156" width="13" height="11" fill="#ffaa00"/>
<rect x="745" y="156" width="13" height="11" fill="#d7ff28"/>
<rect x="758" y="156" width="12" height="11" fill="#80ff80"/>
<rect x="770" y="156" width="26" height="11" fill="#28ffd7"/>
<rect x="796" y="156" width="13" height="11" fill="#55ffaa"/>
<rect x="809" y="156" width="13" height="11" fill="#80ff80"/>
<rect x="822" y="156" width="13" height="11" fill="#aaff55"/>
<rect x="835" y="156" width="12" height="11" fill="#d7ff28"/>
<rect x="847" y="156" width="13" height="11" fill="#ffd700"/>
<rect x="860" y="156" width="26" height="11" fill="#ffaa00"/>
<rect x="886" y="156" width="13" height="11" fill="#ffd700"/>
<rect x="899" y="156" width="13" height="11" fill="#d7ff28"/>
<rect x="912" y="156" width="13" height="11" fill="#aaff55"/>
<rect x="925" y="156" width="12" height="11" fill="#55ffaa"/>
<rect x="937" y="156" width="26" height="11" fill="#28ffd7"/>
<rect x="963" y="156" width="13" height="11" fill="#80ff80"/>
<rect x="976" y="156" width="13" height="11" fill="#d7ff28"/>
<rect x="989" y="156" width="13" height="11" fill="#ffaa00"/>
<rect x="706" y="167" width="13" height="12" fill="#ff0000"/>
<rect x="719" y="167" width="13" height="12" fill="#ff8200"/>
<rect x="732" y="167" width="13" height="12" fill="#ffff00"/>
<rect x="745" y="167" width="13" height="12" fill="#80ff80"/>
<rect x="758" y="167" width="12" height="12" fill="#00ffff"/>
<rect x="770" y="167" width="26" height="12" fill="#0096ff"/>
<rect x="796" y="167" width="13" height="12" fill="#00cdff"/>
<rect x="809" y="167" width="13" height="12" fill="#55ffaa"/>
<rect x="822" y="167" width="13" height="12" fill="#80ff80"/>
<rect x="835" y="167" width="12" height="12" fill="#d7ff28"/>
<rect x="847" y="167" width="13" height="12" fill="#ffd700"/>
<rect x="860" y="167" width="13" height="12" fill="#ffaa00"/>
<rect x="873" y="167" width="13" height="12" fill="#ffd700"/>
<rect x="886" y="167" width="13" height="12" fill="#d7ff28"/>
<rect x="899" y="167" width="13" height="12" fill="#aaff55"/>
<rect x="912" y="167" width="13" height="12" fill="#55ffaa"/>
<rect x="925" y="167" width="12" height="12" fill="#00cdff"/>
<rect x="937" y="167" width="13" height="12" fill="#0069ff"/>
<rect x="950" y="167" width="13" height="12" fill="#0096ff"/>
<rect x="963" y="167" width="13" height="12" fill="#28ffd7"/>
<rect x="976" y="167" width="13" height="12" fill="#aaff55"/>
<rect x="989" y="167" width="13" height="12" fill="#ffd700"/>
<rect x="1002" y="167" width="12" height="12" fill="#ff2800"/>
<rect x="706" y="179" width="13" height="11" fill="#ff0000"/>
<rect x="719" y="179" width="13" height="11" fill="#ffaa00"/>
<rect x="732" y="179" width="13" height="11" fill="#aaff55"/>
<rect x="745" y="179" width="13" height="11" fill="#28ffd7"/>
<rect x="758" y="179" width="12" height="11" fill="#0069ff"/>
<rect x="770" y="179" width="26" height="11" fill="#0032ff"/>
<rect x="796" y="179" width="13" height="11" fill="#0096ff"/>
<rect x="809" y="179" width="13" height="11" fill="#00ffff"/>
<rect x="822" y="179" width="13" height="11" fill="#80ff80"/>
<rect x="835" y="179" width="12" height="11" fill="#aaff55"/>
<rect x="847" y="179" width="13" height="11" fill="#ffff00"/>
<rect x="860" y="179" width="13" height="11" fill="#ffec00"/>
<rect x="873" y="179" width="13" height="11" fill="#ecff14"/>
<rect x="886" y="179" width="13" height="11" fill="#d7ff28"/>
<rect x="899" y="179" width="13" height="11" fill="#80ff80"/>
<rect x="912" y="179" width="13" height="11" fill="#00ffff"/>
<rect x="925" y="179" width="12" height="11" fill="#0069ff"/>
<rect x="937" y="179" width="26" height="11" fill="#0032ff"/>
<rect x="963" y="179" width="13" height="11" fill="#00cdff"/>
<rect x="976" y="179" width="13" height="11" fill="#55ffaa"/>
<rect x="989" y="179" width="13" height="11" fill="#ffff00"/>
<rect x="1002" y="179" width="12" height="11" fill="#ff5500"/>
<rect x="706" y="190" width="13" height="11" fill="#ff2800"/>
<rect x="719" y="190" width="13" height="11" fill="#ffd700"/>
<rect x="732" y="190" width="13" height="11" fill="#80ff80"/>
<rect x="745" y="190" width="13" height="11" fill="#00cdff"/>
<rect x="758" y="190" width="38" height="11" fill="#0000ff"/>
<rect x="796" y="190" width="13" height="11" fill="#0069ff"/>
<rect x="809" y="190" width="13" height="11" fill="#00ffff"/>
<rect x="822" y="190" width="13" height="11" fill="#55ffaa"/>
<rect x="835" y="190" width="12" height="11" fill="#aaff55"/>
<rect x="847" y="190" width="13" height="11" fill="#d7ff28"/>
<rect x="860" y="190" width="13" height="11" fill="#ecff14"/>
<rect x="873" y="190" width="13" height="11" fill="#d7ff28"/>
<rect x="886" y="190" width="13" height="11" fill="#aaff55"/>
<rect x="899" y="190" width="13" height="11" fill="#55ffaa"/>
<rect x="912" y="190" width="13" height="11" fill="#00cdff"/>
<rect x="925" y="190" width="12" height="11" fill="#0032ff"/>
<rect x="937" y="190" width="26" height="11" fill="#0000ff"/>
<rect x="963" y="190" width="13" height="11" fill="#0069ff"/>
<rect x="976" y="190" width="13" height="11" fill="#28ffd7"/>
<rect x="989" y="190" width="13" height="11" fill="#d7ff28"/>
<rect x="1002" y="190" width="12" height="11" fill="#ff8200"/>
<rect x="706" y="201" width="13" height="12" fill="#ff5500"/>
<rect x="719" y="201" width="13" height="12" fill="#d7ff28"/>
<rect x="732" y="201" width="13" height="12" fill="#55ffaa"/>
<rect x="745" y="201" width="13" height="12" fill="#0069ff"/>
<rect x="758" y="201" width="38" height="12" fill="#0000ff"/>
<rect x="796" y="201" width="13" height="12" fill="#0032ff"/>
<rect x="809" y="201" width="13" height="12" fill="#00ffff"/>
<rect x="822" y="201" width="13" height="12" fill="#55ffaa"/>
<rect x="835" y="201" width="12" height="12" fill="#aaff55"/>
<rect x="847" y="201" width="39" height="12" fill="#d7ff28"/>
<rect x="886" y="201" width="13" height="12" fill="#aaff55"/>
<rect x="899" y="201" width="13" height="12" fill="#55ffaa"/>
<rect x="912" y="201" width="13" height="12" fill="#00cdff"/>
<rect x="925" y="201" width="12" height="12" fill="#0032ff"/>
<rect x="937" y="201" width="26" height="12" fill="#0000ff"/>
<rect x="963" y="201" width="13" height="12" fill="#0032ff"/>
<rect x="976" y="201" width="13" height="12" fill="#00ffff"/>
<rect x="989" y="201" width="13" height="12" fill="#aaff55"/>
<rect x="1002" y="201" width="12" height="12" fill="#ffaa00"/>
<rect x="706" y="213" width="13" height="11" fill="#ff8200"/>
<rect x="719" y="213" width="13" height="11" fill="#d7ff28"/>
<rect x="732" y="213" width="13" height="11" fill="#00ffff"/>
<rect x="745" y="213" width="13" height="11" fill="#0032ff"/>
<rect x="758" y="213" width="38" height="11" fill="#0000ff"/>
<rect x="796" y="213" width="13" height="11" fill="#0032ff"/>
<rect x="809" y="213" width="13" height="11" fill="#00ffff"/>
<rect x="822" y="213" width="13" height="11" fill="#55ffaa"/>
<rect x="835" y="213" width="12" height="11" fill="#aaff55"/>
<rect x="847" y="213" width="39" height="11" fill="#d7ff28"/>
<rect x="886" y="213" width="13" height="11" fill="#aaff55"/>
<rect x="899" y="213" width="13" height="11" fill="#55ffaa"/>
<rect x="912" y="213" width="13" height="11" fill="#00cdff"/>
<rect x="925" y="213" width="12" height="11" fill="#0032ff"/>
<rect x="937" y="213" width="26" height="11" fill="#0000ff"/>
<rect x="963" y="213" width="13" height="11" fill="#0032ff"/>
<rect x="976" y="213" width="13" height="11" fill="#00ffff"/>
<rect x="989" y="213" width="13" height="11" fill="#aaff55"/>
<rect x="1002" y="213" width="12" height="11" fill="#ffaa00"/>
<rect x="706" y="224" width="13" height="11" fill="#ffaa00"/>
<rect x="719" y="224" width="13" height="11" fill="#aaff55"/>
<rect x="732" y="224" width="13" height="11" fill="#00cdff"/>
<rect x="745" y="224" width="51" height="11" fill="#0000ff"/>
<rect x="796" y="224" width="13" height="11" fill="#0069ff"/>
<rect x="809" y="224" width="13" height="11" fill="#00ffff"/>
<rect x="822" y="224" width="13" height="11" fill="#55ffaa"/>
<rect x="835" y="224" width="12" height="11" fill="#aaff55"/>
<rect x="847" y="224" width="26" height="11" fill="#d7ff28"/>
<rect x="873" y="224" width="13" height="11" fill="#aaff55"/>
<rect x="886" y="224" width="13" height="11" fill="#80ff80"/>
<rect x="899" y="224" width="13" height="11" fill="#28ffd7"/>
<rect x="912" y="224" width="13" height="11" fill="#0096ff"/>
<rect x="925" y="224" width="12" height="11" fill="#0032ff"/>
<rect x="937" y="224" width="26" height="11" fill="#0000ff"/>
<rect x="963" y="224" width="13" height="11" fill="#0032ff"/>
<rect x="976" y="224" width="13" height="11" fill="#00ffff"/>
<rect x="989" y="224" width="13" height="11" fill="#aaff55"/>
<rect x="1002" y="224" width="12" height="11" fill="#ffaa00"/>
<rect x="693" y="235" width="13" height="12" fill="#ff0000"/>
<rect x="706" y="235" width="13" height="12" fill="#ffaa00"/>
<rect x="719" y="235" width="13" height="12" fill="#aaff55"/>
<rect x="732" y="235" width="13" height="12" fill="#00cdff"/>
<rect x="745" y="235" width="51" height="12" fill="#0000ff"/>
<rect x="796" y="235" width="13" height="12" fill="#0069ff"/>
<rect x="809" y="235" width="13" height="12" fill="#00ffff"/>
<rect x="822" y="235" width="13" height="12" fill="#55ffaa"/>
<rect x="835" y="235" width="12" height="12" fill="#aaff55"/>
<rect x="847" y="235" width="26" height="12" fill="#d7ff28"/>
<rect x="873" y="235" width="13" height="12" fill="#aaff55"/>
<rect x="886" y="235" width="13" height="12" fill="#80ff80"/>
<rect x="899" y="235" width="13" height="12" fill="#28ffd7"/>
<rect x="912" y="235" width="13" height="12" fill="#00ffff"/>
<rect x="925" y="235" width="12" height="12" fill="#0069ff"/>
<rect x="937" y="235" width="26" height="12" fill="#0032ff"/>
<rect x="963" y="235" width="13" height="12" fill="#0069ff"/>
<rect x="976" y="235" width="13" height="12" fill="#28ffd7"/>
<rect x="989" y="235" width="13" height="12" fill="#aaff55"/>
<rect x="1002" y="235" width="12" height="12" fill="#ffaa00"/>
<rect x="1014" y="235" width="13" height="12" fill="#ff0000"/>
<rect x="693" y="247" width="13" height="11" fill="#ff0000"/>
<rect x="706" y="247" width="13" height="11" fill="#ffd700"/>
<rect x="719" y="247" width="13" height="11" fill="#aaff55"/>
<rect x="732" y="247" width="13" height="11" fill="#00cdff"/>
<rect x="745" y="247" width="38" height="11" fill="#0000ff"/>
<rect x="783" y="247" width="13" height="11" fill="#0032ff"/>
<rect x="796" y="247" width="13" height="11" fill="#0096ff"/>
<rect x="809" y="247" width="13" height="11" fill="#00ffff"/>
<rect x="822" y="247" width="13" height="11" fill="#80ff80"/>
<rect x="835" y="247" width="12" height="11" fill="#aaff55"/>
<rect x="847" y="247" width="26" height="11" fill="#d7ff28"/>
<rect x="873" y="247" width="13" height="11" fill="#aaff55"/>
<rect x="886" y="247" width="13" height="11" fill="#80ff80"/>
<rect x="899" y="247" width="13" height="11" fill="#28ffd7"/>
<rect x="912" y="247" width="13" height="11" fill="#00ffff"/>
<rect x="925" y="247" width="38" height="11" fill="#0069ff"/>
<rect x="963" y="247" width="13" height="11" fill="#0096ff"/>
<rect x="976" y="247" width="13" height="11" fill="#55ffaa"/>
<rect x="989" y="247" width="13" height="11" fill="#d7ff28"/>
<rect x="1002" y="247" width="12" height="11" fill="#ff8200"/>
<rect x="1014" y="247" width="13" height="11" fill="#ff0000"/>
<rect x="693" y="258" width="13" height="12" fill="#ff0000"/>
<rect x="706" y="258" width="13" height="12" fill="#ffd700"/>
<rect x="719" y="258" width="13" height="12" fill="#aaff55"/>
<rect x="732" y="258" width="13" height="12" fill="#00cdff"/>
<rect x="745" y="258" width="13" height="12" fill="#0032ff"/>
<rect x="758" y="258" width="25" height="12" fill="#0000ff"/>
<rect x="783" y="258" width="13" height="12" fill="#0032ff"/>
<rect x="796" y="258" width="13" height="12" fill="#00cdff"/>
<rect x="809" y="258" width="13" height="12" fill="#28ffd7"/>
<rect x="822" y="258" width="13" height="12" fill="#80ff80"/>
<rect x="835" y="258" width="12" height="12" fill="#aaff55"/>
<rect x="847" y="258" width="39" height="12" fill="#d7ff28"/>
<rect x="886" y="258" width="13" height="12" fill="#aaff55"/>
<rect x="899" y="258" width="13" height="12" fill="#55ffaa"/>
<rect x="912" y="258" width="13" height="12" fill="#00ffff"/>
<rect x="925" y="258" width="12" height="12" fill="#00cdff"/>
<rect x="937" y="258" width="26" height="12" fill="#0096ff"/>
<rect x="963" y="258" width="13" height="12" fill="#00ffff"/>
<rect x="976" y="258" width="13" height="12" fill="#80ff80"/>
<rect x="989" y="258" width="13" height="12" fill="#ffff00"/>
<rect x="1002" y="258" width="12" height="12" fill="#ff8200"/>
<rect x="1014" y="258" width="13" height="12" fill="#ff0000"/>
<rect x="706" y="270" width="13" height="11" fill="#ffd700"/>
<rect x="719" y="270" width="13" height="11" fill="#aaff55"/>
<rect x="732" y="270" width="13" height="11" fill="#00ffff"/>
<rect x="745" y="270" width="13" height="11" fill="#0032ff"/>
<rect x="758" y="270" width="25" height="11" fill="#0000ff"/>
<rect x="783" y="270" width="13" height="11" fill="#0069ff"/>
<rect x="796" y="270" width="13" height="11" fill="#00ffff"/>
<rect x="809" y="270" width="13" height="11" fill="#55ffaa"/>
<rect x="822" y="270" width="13" height="11" fill="#80ff80"/>
<rect x="835" y="270" width="12" height="11" fill="#d7ff28"/>
<rect x="847" y="270" width="26" height="11" fill="#ffff00"/>
<rect x="873" y="270" width="13" height="11" fill="#d7ff28"/>
<rect x="886" y="270" width="13" height="11" fill="#aaff55"/>
<rect x="899" y="270" width="13" height="11" fill="#80ff80"/>
<rect x="912" y="270" width="13" height="11" fill="#28ffd7"/>
<rect x="925" y="270" width="12" height="11" fill="#00ffff"/>
<rect x="937" y="270" width="13" height="11" fill="#00cdff"/>
<rect x="950" y="270" width="13" height="11" fill="#00ffff"/>
<rect x="963" y="270" width="13" height="11" fill="#28ffd7"/>
<rect x="976" y="270" width="13" height="11" fill="#aaff55"/>
<rect x="989" y="270" width="13" height="11" fill="#ffd700"/>
<rect x="1002" y="270" width="12" height="11" fill="#ff5500"/>
<rect x="706" y="281" width="13" height="11" fill="#ffaa00"/>
<rect x="719" y="281" width="13" height="11" fill="#d7ff28"/>
<rect x="732" y="281" width="13" height="11" fill="#28ffd7"/>
<rect x="745" y="281" width="13" height="11" fill="#0069ff"/>
<rect x="758" y="281" width="25" height="11" fill="#0032ff"/>
<rect x="783" y="281" width="13" height="11" fill="#0096ff"/>
<rect x="796" y="281" width="13" height="11" fill="#28ffd7"/>
<rect x="809" y="281" width="13" height="11" fill="#80ff80"/>
<rect x="822" y="281" width="13" height="11" fill="#aaff55"/>
<rect x="835" y="281" width="12" height="11" fill="#d7ff28"/>
<rect x="847" y="281" width="26" height="11" fill="#ffd700"/>
<rect x="873" y="281" width="13" height="11" fill="#ffff00"/>
<rect x="886" y="281" width="13" height="11" fill="#d7ff28"/>
<rect x="899" y="281" width="13" height="11" fill="#aaff55"/>
<rect x="912" y="281" width="13" height="11" fill="#80ff80"/>
<rect x="925" y="281" width="25" height="11" fill="#28ffd7"/>
<rect x="950" y="281" width="13" height="11" fill="#55ffaa"/>
<rect x="963" y="281" width="13" height="11" fill="#80ff80"/>
<rect x="976" y="281" width="13" height="11" fill="#d7ff28"/>
<rect x="989" y="281" width="13" height="11" fill="#ffaa00"/>
<rect x="1002" y="281" width="12" height="11" fill="#ff2800"/>
<rect x="706" y="292" width="13" height="12" fill="#ff8200"/>
<rect x="719" y="292" width="13" height="12" fill="#d7ff28"/>
<rect x="732" y="292" width="13" height="12" fill="#55ffaa"/>
<rect x="745" y="292" width="13" height="12" fill="#00ffff"/>
<rect x="758" y="292" width="25" height="12" fill="#0096ff"/>
<rect x="783" y="292" width="13" height="12" fill="#00ffff"/>
<rect x="796" y="292" width="13" height="12" fill="#55ffaa"/>
<rect x="809" y="292" width="13" height="12" fill="#80ff80"/>
<rect x="822" y="292" width="13" height="12" fill="#aaff55"/>
<rect x="835" y="292" width="12" height="12" fill="#ffd700"/>
<rect x="847" y="292" width="26" height="12" fill="#ffaa00"/>
<rect x="873" y="292" width="13" height="12" fill="#ffd700"/>
<rect x="886" y="292" width="13" height="12" fill="#ffff00"/>
<rect x="899" y="292" width="13" height="12" fill="#d7ff28"/>
<rect x="912" y="292" width="13" height="12" fill="#aaff55"/>
<rect x="925" y="292" width="38" height="12" fill="#80ff80"/>
<rect x="963" y="292" width="13" height="12" fill="#aaff55"/>
<rect x="976" y="292" width="13" height="12" fill="#ffff00"/>
<rect x="989" y="292" width="13" height="12" fill="#ff8200"/>
<rect x="1002" y="292" width="12" height="12" fill="#ff0000"/>
<rect x="706" y="304" width="13" height="11" fill="#ff5500"/>
<rect x="719" y="304" width="13" height="11" fill="#ffff00"/>
<rect x="732" y="304" width="13" height="11" fill="#aaff55"/>
<rect x="745" y="304" width="13" height="11" fill="#28ffd7"/>
<rect x="758" y="304" width="25" height="11" fill="#00ffff"/>
<rect x="783" y="304" width="13" height="11" fill="#28ffd7"/>
<rect x="796" y="304" width="13" height="11" fill="#80ff80"/>
<rect x="809" y="304" width="13" height="11" fill="#aaff55"/>
<rect x="822" y="304" width="13" height="11" fill="#ffff00"/>
<rect x="835" y="304" width="12" height="11" fill="#ffaa00"/>
<rect x="847" y="304" width="26" height="11" fill="#ff8200"/>
<rect x="873" y="304" width="13" height="11" fill="#ffaa00"/>
<rect x="886" y="304" width="13" height="11" fill="#ffd700"/>
<rect x="899" y="304" width="13" height="11" fill="#d7ff28"/>
<rect x="912" y="304" width="51" height="11" fill="#aaff55"/>
<rect x="963" y="304" width="13" height="11" fill="#d7ff28"/>
<rect x="976" y="304" width="13" height="11" fill="#ffaa00"/>
<rect x="989" y="304" width="13" height="11" fill="#ff5500"/>
<rect x="1002" y="304" width="12" height="11" fill="#ff0000"/>
<rect x="719" y="315" width="13" height="11" fill="#ffaa00"/>
<rect x="732" y="315" width="13" height="11" fill="#d7ff28"/>
<rect x="745" y="315" width="13" height="11" fill="#80ff80"/>
<rect x="758" y="315" width="25" height="11" fill="#55ffaa"/>
<rect x="783" y="315" width="13" height="11" fill="#80ff80"/>
<rect x="796" y="315" width="13" height="11" fill="#aaff55"/>
<rect x="809" y="315" width="13" height="11" fill="#d7ff28"/>
<rect x="822" y="315" width="13" height="11" fill="#ffaa00"/>
<rect x="835" y="315" width="12" height="11" fill="#ff8200"/>
<rect x="847" y="315" width="39" height="11" fill="#ff5500"/>
<rect x="886" y="315" width="13" height="11" fill="#ff8200"/>
<rect x="899" y="315" width="13" height="11" fill="#ffaa00"/>
<rect x="912" y="315" width="13" height="11" fill="#ffff00"/>
<rect x="925" y="315" width="25" height="11" fill="#d7ff28"/>
<rect x="950" y="315" width="13" height="11" fill="#ffff00"/>
<rect x="963" y="315" width="13" height="11" fill="#ffd700"/>
<rect x="976" y="315" width="13" height="11" fill="#ff8200"/>
<rect x="989" y="315" width="13" height="11" fill="#ff0000"/>
<rect x="719" y="326" width="13" height="12" fill="#ff8200"/>
<rect x="732" y="326" width="13" height="12" fill="#ffd700"/>
<rect x="745" y="326" width="13" height="12" fill="#d7ff28"/>
<rect x="758" y="326" width="25" height="12" fill="#aaff55"/>
<rect x="783" y="326" width="13" height="12" fill="#d7ff28"/>
<rect x="796" y="326" width="13" height="12" fill="#ffff00"/>
<rect x="809" y="326" width="13" height="12" fill="#ffaa00"/>
<rect x="822" y="326" width="13" height="12" fill="#ff8200"/>
<rect x="835" y="326" width="25" height="12" fill="#ff2800"/>
<rect x="860" y="326" width="13" height="12" fill="#ff0000"/>
<rect x="873" y="326" width="13" height="12" fill="#ff2800"/>
<rect x="886" y="326" width="13" height="12" fill="#ff5500"/>
<rect x="899" y="326" width="13" height="12" fill="#ff8200"/>
<rect x="912" y="326" width="13" height="12" fill="#ffaa00"/>
<rect x="925" y="326" width="25" height="12" fill="#ffd700"/>
<rect x="950" y="326" width="13" height="12" fill="#ffaa00"/>
<rect x="963" y="326" width="13" height="12" fill="#ff8200"/>
<rect x="976" y="326" width="13" height="12" fill="#ff2800"/>
<rect x="989" y="326" width="13" height="12" fill="#ff0000"/>
<rect x="732" y="338" width="13" height="11" fill="#ffaa00"/>
<rect x="745" y="338" width="13" height="11" fill="#ffd700"/>
<rect x="758" y="338" width="12" height="11" fill="#ffff00"/>
<rect x="770" y="338" width="26" height="11" fill="#ffd700"/>
<rect x="796" y="338" width="13" height="11" fill="#ffaa00"/>
<rect x="809" y="338" width="13" height="11" fill="#ff8200"/>
<rect x="822" y="338" width="13" height="11" fill="#ff5500"/>
<rect x="835" y="338" width="51" height="11" fill="#ff0000"/>
<rect x="886" y="338" width="13" height="11" fill="#ff2800"/>
<rect x="899" y="338" width="13" height="11" fill="#ff5500"/>
<rect x="912" y="338" width="51" height="11" fill="#ff8200"/>
<rect x="963" y="338" width="13" height="11" fill="#ff5500"/>
<rect x="976" y="338" width="13" height="11" fill="#ff0000"/>
<rect x="732" y="349" width="13" height="11" fill="#ff5500"/>
<rect x="745" y="349" width="13" height="11" fill="#ff8200"/>
<rect x="758" y="349" width="12" height="11" fill="#ffaa00"/>
<rect x="770" y="349" width="26" height="11" fill="#ff8200"/>
<rect x="796" y="349" width="13" height="11" fill="#ff5500"/>
<rect x="809" y="349" width="13" height="11" fill="#ff2800"/>
<rect x="822" y="349" width="38" height="11" fill="#ff0000"/>
<rect x="860" y="349" width="13" height="11" fill="#e1000f"/>
<rect x="873" y="349" width="26" height="11" fill="#ff0000"/>
<rect x="899" y="349" width="38" height="11" fill="#ff2800"/>
<rect x="937" y="349" width="13" height="11" fill="#ff5500"/>
<rect x="950" y="349" width="13" height="11" fill="#ff2800"/>
<rect x="963" y="349" width="26" height="11" fill="#ff0000"/>
<rect x="745" y="360" width="64" height="12" fill="#ff2800"/>
<rect x="809" y="360" width="26" height="12" fill="#ff0000"/>
<rect x="886" y="360" width="90" height="12" fill="#ff0000"/>
<rect x="809" y="372" width="13" height="11" fill="#ff0000"/>
<rect x="899" y="372" width="13" height="11" fill="#ff0000"/>
</g>
<g>
<rect x="654.8" y="546.5" width="398.2" height="351.8" fill="#00008f"/>
<rect x="758" y="592" width="25" height="11" fill="#55ffaa"/>
<rect x="937" y="592" width="26" height="11" fill="#55ffaa"/>
<rect x="732" y="603" width="38" height="12" fill="#00ffff"/>
<rect x="770" y="603" width="26" height="12" fill="#28ffd7"/>
<rect x="796" y="603" width="13" height="12" fill="#00ffff"/>
<rect x="809" y="603" width="13" height="12" fill="#00e6ff"/>
<rect x="822" y="603" width="13" height="12" fill="#00b4ff"/>
<rect x="835" y="603" width="12" height="12" fill="#0076ff"/>
<rect x="873" y="603" width="13" height="12" fill="#0076ff"/>
<rect x="886" y="603" width="13" height="12" fill="#00b4ff"/>
<rect x="899" y="603" width="13" height="12" fill="#00ffff"/>
<rect x="912" y="603" width="13" height="12" fill="#28ffd7"/>
<rect x="925" y="603" width="12" height="12" fill="#55ffaa"/>
<rect x="937" y="603" width="52" height="12" fill="#28ffd7"/>
<rect x="719" y="615" width="26" height="11" fill="#00cdff"/>
<rect x="745" y="615" width="13" height="11" fill="#00e6ff"/>
<rect x="758" y="615" width="51" height="11" fill="#00ffff"/>
<rect x="809" y="615" width="13" height="11" fill="#00e6ff"/>
<rect x="822" y="615" width="13" height="11" fill="#00b4ff"/>
<rect x="835" y="615" width="12" height="11" fill="#0096ff"/>
<rect x="847" y="615" width="26" height="11" fill="#0076ff"/>
<rect x="873" y="615" width="13" height="11" fill="#0096ff"/>
<rect x="886" y="615" width="13" height="11" fill="#00cdff"/>
<rect x="899" y="615" width="13" height="11" fill="#00ffff"/>
<rect x="912" y="615" width="38" height="11" fill="#28ffd7"/>
<rect x="950" y="615" width="52" height="11" fill="#00ffff"/>
<rect x="719" y="626" width="39" height="11" fill="#00cdff"/>
<rect x="758" y="626" width="25" height="11" fill="#00e6ff"/>
<rect x="783" y="626" width="26" height="11" fill="#00ffff"/>
<rect x="809" y="626" width="13" height="11" fill="#00e6ff"/>
<rect x="822" y="626" width="25" height="11" fill="#00b4ff"/>
<rect x="847" y="626" width="26" height="11" fill="#0076ff"/>
<rect x="873" y="626" width="13" height="11" fill="#0096ff"/>
<rect x="886" y="626" width="13" height="11" fill="#00e6ff"/>
<rect x="899" y="626" width="13" height="11" fill="#00ffff"/>
<rect x="912" y="626" width="38" height="11" fill="#28ffd7"/>
<rect x="950" y="626" width="26" height="11" fill="#00ffff"/>
<rect x="976" y="626" width="26" height="11" fill="#00e6ff"/>
<rect x="706" y="637" width="64" height="12" fill="#00cdff"/>
<rect x="770" y="637" width="39" height="12" fill="#00e6ff"/>
<rect x="809" y="637" width="13" height="12" fill="#00cdff"/>
<rect x="822" y="637" width="25" height="12" fill="#00b4ff"/>
<rect x="847" y="637" width="26" height="12" fill="#0076ff"/>
<rect x="873" y="637" width="13" height="12" fill="#00cdff"/>
<rect x="886" y="637" width="13" height="12" fill="#00e6ff"/>
<rect x="899" y="637" width="38" height="12" fill="#28ffd7"/>
<rect x="937" y="637" width="26" height="12" fill="#00ffff"/>
<rect x="963" y="637" width="26" height="12" fill="#00e6ff"/>
<rect x="989" y="637" width="25" height="12" fill="#00cdff"/>
<rect x="706" y="649" width="39" height="11" fill="#00b4ff"/>
<rect x="745" y="649" width="77" height="11" fill="#00cdff"/>
<rect x="822" y="649" width="13" height="11" fill="#00b4ff"/>
<rect x="835" y="649" width="38" height="11" fill="#0096ff"/>
<rect x="873" y="649" width="13" height="11" fill="#00cdff"/>
<rect x="886" y="649" width="13" height="11" fill="#00ffff"/>
<rect x="899" y="649" width="38" height="11" fill="#28ffd7"/>
<rect x="937" y="649" width="13" height="11" fill="#00ffff"/>
<rect x="950" y="649" width="26" height="11" fill="#00e6ff"/>
<rect x="976" y="649" width="26" height="11" fill="#00cdff"/>
<rect x="1002" y="649" width="12" height="11" fill="#00b4ff"/>
<rect x="706" y="660" width="64" height="11" fill="#00b4ff"/>
<rect x="770" y="660" width="39" height="11" fill="#00cdff"/>
<rect x="809" y="660" width="26" height="11" fill="#00b4ff"/>
<rect x="835" y="660" width="25" height="11" fill="#0096ff"/>
<rect x="860" y="660" width="13" height="11" fill="#00b4ff"/>
<rect x="873" y="660" width="13" height="11" fill="#00e6ff"/>
<rect x="886" y="660" width="39" height="11" fill="#28ffd7"/>
<rect x="925" y="660" width="25" height="11" fill="#00ffff"/>
<rect x="950" y="660" width="13" height="11" fill="#00e6ff"/>
<rect x="963" y="660" width="26" height="11" fill="#00cdff"/>
<rect x="989" y="660" width="25" height="11" fill="#00b4ff"/>
<rect x="706" y="671" width="39" height="12" fill="#0096ff"/>
<rect x="745" y="671" width="90" height="12" fill="#00b4ff"/>
<rect x="835" y="671" width="12" height="12" fill="#0096ff"/>
<rect x="847" y="671" width="26" height="12" fill="#00b4ff"/>
<rect x="873" y="671" width="13" height="12" fill="#00ffff"/>
<rect x="886" y="671" width="13" height="12" fill="#28ffd7"/>
<rect x="899" y="671" width="13" height="12" fill="#55ffaa"/>
<rect x="912" y="671" width="13" height="12" fill="#28ffd7"/>
<rect x="925" y="671" width="12" height="12" fill="#00ffff"/>
<rect x="937" y="671" width="26" height="12" fill="#00e6ff"/>
<rect x="963" y="671" width="26" height="12" fill="#00cdff"/>
<rect x="989" y="671" width="13" height="12" fill="#00b4ff"/>
<rect x="1002" y="671" width="12" height="12" fill="#0096ff"/>
<rect x="706" y="683" width="13" height="11" fill="#0076ff"/>
<rect x="719" y="683" width="128" height="11" fill="#0096ff"/>
<rect x="847" y="683" width="13" height="11" fill="#00b4ff"/>
<rect x="860" y="683" width="13" height="11" fill="#00e6ff"/>
<rect x="873" y="683" width="13" height="11" fill="#28ffd7"/>
<rect x="886" y="683" width="13" height="11" fill="#55ffaa"/>
<rect x="899" y="683" width="26" height="11" fill="#28ffd7"/>
<rect x="925" y="683" width="12" height="11" fill="#00ffff"/>
<rect x="937" y="683" width="13" height="11" fill="#00e6ff"/>
<rect x="950" y="683" width="26" height="11" fill="#00cdff"/>
<rect x="976" y="683" width="26" height="11" fill="#00b4ff"/>
<rect x="1002" y="683" width="12" height="11" fill="#0096ff"/>
<rect x="706" y="694" width="39" height="11" fill="#0076ff"/>
<rect x="745" y="694" width="102" height="11" fill="#0096ff"/>
<rect x="847" y="694" width="13" height="11" fill="#00b4ff"/>
<rect x="860" y="694" width="13" height="11" fill="#00e6ff"/>
<rect x="873" y="694" width="13" height="11" fill="#28ffd7"/>
<rect x="886" y="694" width="13" height="11" fill="#55ffaa"/>
<rect x="899" y="694" width="26" height="11" fill="#28ffd7"/>
<rect x="925" y="694" width="12" height="11" fill="#00ffff"/>
<rect x="937" y="694" width="13" height="11" fill="#00e6ff"/>
<rect x="950" y="694" width="26" height="11" fill="#00cdff"/>
<rect x="976" y="694" width="26" height="11" fill="#00b4ff"/>
<rect x="1002" y="694" width="12" height="11" fill="#0076ff"/>
<rect x="693" y="705" width="65" height="12" fill="#0076ff"/>
<rect x="758" y="705" width="89" height="12" fill="#0096ff"/>
<rect x="847" y="705" width="13" height="12" fill="#00b4ff"/>
<rect x="860" y="705" width="13" height="12" fill="#00ffff"/>
<rect x="873" y="705" width="13" height="12" fill="#28ffd7"/>
<rect x="886" y="705" width="13" height="12" fill="#55ffaa"/>
<rect x="899" y="705" width="26" height="12" fill="#28ffd7"/>
<rect x="925" y="705" width="12" height="12" fill="#00e6ff"/>
<rect x="937" y="705" width="26" height="12" fill="#00cdff"/>
<rect x="963" y="705" width="39" height="12" fill="#00b4ff"/>
<rect x="1002" y="705" width="12" height="12" fill="#0096ff"/>
<rect x="1014" y="705" width="13" height="12" fill="#0076ff"/>
<rect x="693" y="717" width="77" height="11" fill="#0076ff"/>
<rect x="770" y="717" width="77" height="11" fill="#0096ff"/>
<rect x="847" y="717" width="13" height="11" fill="#00b4ff"/>
<rect x="860" y="717" width="13" height="11" fill="#00ffff"/>
<rect x="873" y="717" width="13" height="11" fill="#28ffd7"/>
<rect x="886" y="717" width="13" height="11" fill="#55ffaa"/>
<rect x="899" y="717" width="13" height="11" fill="#28ffd7"/>
<rect x="912" y="717" width="13" height="11" fill="#00ffff"/>
<rect x="925" y="717" width="12" height="11" fill="#00e6ff"/>
<rect x="937" y="717" width="26" height="11" fill="#00cdff"/>
<rect x="963" y="717" width="26" height="11" fill="#00b4ff"/>
<rect x="989" y="717" width="13" height="11" fill="#0096ff"/>
<rect x="1002" y="717" width="25" height="11" fill="#0076ff"/>
<rect x="693" y="728" width="65" height="11" fill="#0076ff"/>
<rect x="758" y="728" width="89" height="11" fill="#0096ff"/>
<rect x="847" y="728" width="13" height="11" fill="#00b4ff"/>
<rect x="860" y="728" width="13" height="11" fill="#00ffff"/>
<rect x="873" y="728" width="13" height="11" fill="#28ffd7"/>
<rect x="886" y="728" width="13" height="11" fill="#55ffaa"/>
<rect x="899" y="728" width="26" height="11" fill="#28ffd7"/>
<rect x="925" y="728" width="12" height="11" fill="#00e6ff"/>
<rect x="937" y="728" width="26" height="11" fill="#00cdff"/>
<rect x="963" y="728" width="26" height="11" fill="#00b4ff"/>
<rect x="989" y="728" width="13" height="11" fill="#0096ff"/>
<rect x="1002" y="728" width="25" height="11" fill="#0076ff"/>
<rect x="706" y="739" width="39" height="12" fill="#0076ff"/>
<rect x="745" y="739" width="102" height="12" fill="#0096ff"/>
<rect x="847" y="739" width="13" height="12" fill="#00b4ff"/>
<rect x="860" y="739" width="13" height="12" fill="#00ffff"/>
<rect x="873" y="739" width="13" height="12" fill="#28ffd7"/>
<rect x="886" y="739" width="26" height="12" fill="#55ffaa"/>
<rect x="912" y="739" width="13" height="12" fill="#28ffd7"/>
<rect x="925" y="739" width="12" height="12" fill="#00ffff"/>
<rect x="937" y="739" width="26" height="12" fill="#00cdff"/>
<rect x="963" y="739" width="26" height="12" fill="#00b4ff"/>
<rect x="989" y="739" width="13" height="12" fill="#0096ff"/>
<rect x="1002" y="739" width="12" height="12" fill="#0076ff"/>
<rect x="706" y="751" width="26" height="11" fill="#0076ff"/>
<rect x="732" y="751" width="115" height="11" fill="#0096ff"/>
<rect x="847" y="751" width="13" height="11" fill="#00b4ff"/>
<rect x="860" y="751" width="13" height="11" fill="#00ffff"/>
<rect x="873" y="751" width="13" height="11" fill="#28ffd7"/>
<rect x="886" y="751" width="26" height="11" fill="#55ffaa"/>
<rect x="912" y="751" width="13" height="11" fill="#28ffd7"/>
<rect x="925" y="751" width="12" height="11" fill="#00ffff"/>
<rect x="937" y="751" width="26" height="11" fill="#00cdff"/>
<rect x="963" y="751" width="26" height="11" fill="#00b4ff"/>
<rect x="989" y="751" width="13" height="11" fill="#0096ff"/>
<rect x="1002" y="751" width="12" height="11" fill="#0076ff"/>
<rect x="706" y="762" width="13" height="11" fill="#0076ff"/>
<rect x="719" y="762" width="51" height="11" fill="#0096ff"/>
<rect x="770" y="762" width="52" height="11" fill="#00b4ff"/>
<rect x="822" y="762" width="13" height="11" fill="#0096ff"/>
<rect x="835" y="762" width="25" height="11" fill="#00b4ff"/>
<rect x="860" y="762" width="13" height="11" fill="#00ffff"/>
<rect x="873" y="762" width="13" height="11" fill="#28ffd7"/>
<rect x="886" y="762" width="26" height="11" fill="#55ffaa"/>
<rect x="912" y="762" width="13" height="11" fill="#28ffd7"/>
<rect x="925" y="762" width="12" height="11" fill="#00ffff"/>
<rect x="937" y="762" width="13" height="11" fill="#00e6ff"/>
<rect x="950" y="762" width="13" height="11" fill="#00cdff"/>
<rect x="963" y="762" width="26" height="11" fill="#00b4ff"/>
<rect x="989" y="762" width="13" height="11" fill="#0096ff"/>
<rect x="1002" y="762" width="12" height="11" fill="#0076ff"/>
<rect x="706" y="773" width="39" height="12" fill="#00b4ff"/>
<rect x="745" y="773" width="77" height="12" fill="#00cdff"/>
<rect x="822" y="773" width="38" height="12" fill="#00b4ff"/>
<rect x="860" y="773" width="13" height="12" fill="#00e6ff"/>
<rect x="873" y="773" width="13" height="12" fill="#28ffd7"/>
<rect x="886" y="773" width="13" height="12" fill="#55ffaa"/>
<rect x="899" y="773" width="13" height="12" fill="#80ff80"/>
<rect x="912" y="773" width="13" height="12" fill="#28ffd7"/>
<rect x="925" y="773" width="12" height="12" fill="#00ffff"/>
<rect x="937" y="773" width="13" height="12" fill="#00e6ff"/>
<rect x="950" y="773" width="26" height="12" fill="#00cdff"/>
<rect x="976" y="773" width="13" height="12" fill="#00b4ff"/>
<rect x="989" y="773" width="13" height="12" fill="#0096ff"/>
<rect x="1002" y="773" width="12" height="12" fill="#0076ff"/>
<rect x="719" y="785" width="13" height="11" fill="#00b4ff"/>
<rect x="732" y="785" width="38" height="11" fill="#00cdff"/>
<rect x="770" y="785" width="52" height="11" fill="#00e6ff"/>
<rect x="822" y="785" width="13" height="11" fill="#00cdff"/>
<rect x="835" y="785" width="25" height="11" fill="#00b4ff"/>
<rect x="860" y="785" width="13" height="11" fill="#00e6ff"/>
<rect x="873" y="785" width="13" height="11" fill="#00ffff"/>
<rect x="886" y="785" width="13" height="11" fill="#55ffaa"/>
<rect x="899" y="785" width="13" height="11" fill="#80ff80"/>
<rect x="912" y="785" width="13" height="11" fill="#55ffaa"/>
<rect x="925" y="785" width="12" height="11" fill="#00ffff"/>
<rect x="937" y="785" width="13" height="11" fill="#00e6ff"/>
<rect x="950" y="785" width="26" height="11" fill="#00cdff"/>
<rect x="976" y="785" width="13" height="11" fill="#00b4ff"/>
<rect x="989" y="785" width="13" height="11" fill="#0096ff"/>
<rect x="719" y="796" width="39" height="12" fill="#00cdff"/>
<rect x="758" y="796" width="64" height="12" fill="#00e6ff"/>
<rect x="822" y="796" width="13" height="12" fill="#00cdff"/>
<rect x="835" y="796" width="25" height="12" fill="#0096ff"/>
<rect x="860" y="796" width="13" height="12" fill="#00cdff"/>
<rect x="873" y="796" width="13" height="12" fill="#00ffff"/>
<rect x="886" y="796" width="13" height="12" fill="#55ffaa"/>
<rect x="899" y="796" width="13" height="12" fill="#80ff80"/>
<rect x="912" y="796" width="13" height="12" fill="#55ffaa"/>
<rect x="925" y="796" width="12" height="12" fill="#00ffff"/>
<rect x="937" y="796" width="13" height="12" fill="#00e6ff"/>
<rect x="950" y="796" width="13" height="12" fill="#00cdff"/>
<rect x="963" y="796" width="13" height="12" fill="#00b4ff"/>
<rect x="976" y="796" width="26" height="12" fill="#0096ff"/>
<rect x="732" y="808" width="13" height="11" fill="#00cdff"/>
<rect x="745" y="808" width="64" height="11" fill="#00e6ff"/>
<rect x="809" y="808" width="13" height="11" fill="#00cdff"/>
<rect x="822" y="808" width="13" height="11" fill="#00b4ff"/>
<rect x="835" y="808" width="38" height="11" fill="#0096ff"/>
<rect x="873" y="808" width="13" height="11" fill="#00cdff"/>
<rect x="886" y="808" width="13" height="11" fill="#00ffff"/>
<rect x="899" y="808" width="13" height="11" fill="#55ffaa"/>
<rect x="912" y="808" width="13" height="11" fill="#28ffd7"/>
<rect x="925" y="808" width="12" height="11" fill="#00ffff"/>
<rect x="937" y="808" width="13" height="11" fill="#00e6ff"/>
<rect x="950" y="808" width="13" height="11" fill="#00cdff"/>
<rect x="963" y="808" width="13" height="11" fill="#00b4ff"/>
<rect x="976" y="808" width="13" height="11" fill="#0096ff"/>
<rect x="732" y="819" width="51" height="11" fill="#00e6ff"/>
<rect x="783" y="819" width="26" height="11" fill="#00cdff"/>
<rect x="809" y="819" width="13" height="11" fill="#00b4ff"/>
<rect x="822" y="819" width="13" height="11" fill="#0096ff"/>
<rect x="835" y="819" width="38" height="11" fill="#0076ff"/>
<rect x="873" y="819" width="13" height="11" fill="#00b4ff"/>
<rect x="886" y="819" width="13" height="11" fill="#00e6ff"/>
<rect x="899" y="819" width="13" height="11" fill="#00ffff"/>
<rect x="912" y="819" width="13" height="11" fill="#28ffd7"/>
<rect x="925" y="819" width="12" height="11" fill="#00ffff"/>
<rect x="937" y="819" width="13" height="11" fill="#00cdff"/>
<rect x="950" y="819" width="13" height="11" fill="#00b4ff"/>
<rect x="963" y="819" width="26" height="11" fill="#0096ff"/>
<rect x="745" y="830" width="51" height="12" fill="#00cdff"/>
<rect x="796" y="830" width="13" height="12" fill="#00b4ff"/>
<rect x="809" y="830" width="26" height="12" fill="#0096ff"/>
<rect x="886" y="830" width="13" height="12" fill="#00cdff"/>
<rect x="899" y="830" width="13" height="12" fill="#00e6ff"/>
<rect x="912" y="830" width="13" height="12" fill="#28ffd7"/>
<rect x="925" y="830" width="12" height="12" fill="#00ffff"/>
<rect x="937" y="830" width="13" height="12" fill="#00cdff"/>
<rect x="950" y="830" width="26" height="12" fill="#0096ff"/>
<rect x="809" y="842" width="13" height="11" fill="#0076ff"/>
<rect x="899" y="842" width="13" height="11" fill="#00e6ff"/>
</g>
<rect x="1077.4" y="77.0" width="39.9" height="351.0" fill="url(#gf)" stroke="#1a1a1a" stroke-width="1"/>
<text x="1129.3" y="441.4" font-size="28" fill="#404040">0</text>
<line x1="1114.3" y1="366.5" x2="1117.3" y2="366.5" stroke="#1a1a1a" stroke-width="1"/>
<text x="1129.3" y="379.4" font-size="28" fill="#404040">2</text>
<line x1="1114.3" y1="304.4" x2="1117.3" y2="304.4" stroke="#1a1a1a" stroke-width="1"/>
<text x="1129.3" y="317.3" font-size="28" fill="#404040">4</text>
<line x1="1114.3" y1="242.4" x2="1117.3" y2="242.4" stroke="#1a1a1a" stroke-width="1"/>
<text x="1129.3" y="255.3" font-size="28" fill="#404040">6</text>
<line x1="1114.3" y1="180.4" x2="1117.3" y2="180.4" stroke="#1a1a1a" stroke-width="1"/>
<text x="1129.3" y="193.3" font-size="28" fill="#404040">8</text>
<line x1="1114.3" y1="118.4" x2="1117.3" y2="118.4" stroke="#1a1a1a" stroke-width="1"/>
<text x="1129.3" y="131.3" font-size="28" fill="#404040">10</text>
<rect x="1077.4" y="547.0" width="39.9" height="350.8" fill="url(#gj)" stroke="#1a1a1a" stroke-width="1"/>
<text x="1129.3" y="911.2" font-size="28" fill="#404040">0</text>
<line x1="1114.3" y1="810.3" x2="1117.3" y2="810.3" stroke="#1a1a1a" stroke-width="1"/>
<text x="1129.3" y="823.2" font-size="28" fill="#404040">0.5</text>
<line x1="1114.3" y1="722.4" x2="1117.3" y2="722.4" stroke="#1a1a1a" stroke-width="1"/>
<text x="1129.3" y="735.3" font-size="28" fill="#404040">1</text>
<line x1="1114.3" y1="634.4" x2="1117.3" y2="634.4" stroke="#1a1a1a" stroke-width="1"/>
<text x="1129.3" y="647.3" font-size="28" fill="#404040">1.5</text>
<text x="1129.3" y="559.4" font-size="28" fill="#404040">2</text>
<text x="607.0" y="52.6" font-size="70">B</text>
<text x="761.8" y="50.7" font-size="33.3" font-weight="bold">FVC</text><text x="830.8" y="65.9" font-size="27.3" font-weight="bold">EIT</text><text x="882.1" y="50.7" font-size="33.3" font-weight="bold" letter-spacing="0.9">(ml)</text>
<text x="853.9" y="534.5" font-size="33" font-weight="bold" text-anchor="middle">T75 (s)</text>
<text transform="translate(615.1,465.1) scale(1,1.075)" font-size="34" text-anchor="start">GI: 0.38</text>
<text transform="translate(1056.8,465.1) scale(1,1.075)" font-size="34.2" text-anchor="end">CoV: 48.20</text>
<text transform="translate(615.1,934.7) scale(1,1.075)" font-size="34" text-anchor="start">GI: 0.14</text>
<text transform="translate(933.8,931.7) scale(1,1.075)" font-size="34.2" text-anchor="start">mean:</text>
<text transform="translate(1041.6,934.8) scale(1,1.05)" font-size="33.5" text-anchor="start">0.6 s</text>
<g>
<rect x="1254.1" y="77.8" width="398.2" height="352.0" fill="#00008f"/>
<rect x="1331" y="135" width="13" height="11" fill="#ff0000"/>
<rect x="1344" y="135" width="13" height="11" fill="#ff2800"/>
<rect x="1357" y="135" width="13" height="11" fill="#ff8200"/>
<rect x="1370" y="135" width="13" height="11" fill="#ffd700"/>
<rect x="1537" y="135" width="13" height="11" fill="#ff2800"/>
<rect x="1550" y="135" width="25" height="11" fill="#ff5500"/>
<rect x="1575" y="135" width="13" height="11" fill="#ff2800"/>
<rect x="1318" y="146" width="13" height="11" fill="#ff0000"/>
<rect x="1331" y="146" width="13" height="11" fill="#ff5500"/>
<rect x="1344" y="146" width="13" height="11" fill="#ffaa00"/>
<rect x="1357" y="146" width="13" height="11" fill="#d7ff28"/>
<rect x="1370" y="146" width="25" height="11" fill="#aaff55"/>
<rect x="1524" y="146" width="13" height="11" fill="#ff5500"/>
<rect x="1537" y="146" width="13" height="11" fill="#ffaa00"/>
<rect x="1550" y="146" width="25" height="11" fill="#ffd700"/>
<rect x="1575" y="146" width="13" height="11" fill="#ff8200"/>
<rect x="1588" y="146" width="13" height="11" fill="#ff2800"/>
<rect x="1318" y="157" width="13" height="12" fill="#ff2800"/>
<rect x="1331" y="157" width="13" height="12" fill="#ffd700"/>
<rect x="1344" y="157" width="13" height="12" fill="#aaff55"/>
<rect x="1357" y="157" width="13" height="12" fill="#80ff80"/>
<rect x="1370" y="157" width="13" height="12" fill="#55ffaa"/>
<rect x="1383" y="157" width="25" height="12" fill="#80ff80"/>
<rect x="1408" y="157" width="13" height="12" fill="#aaff55"/>
<rect x="1498" y="157" width="13" height="12" fill="#ff0000"/>
<rect x="1511" y="157" width="13" height="12" fill="#ff5500"/>
<rect x="1524" y="157" width="13" height="12" fill="#ffaa00"/>
<rect x="1537" y="157" width="13" height="12" fill="#d7ff28"/>
<rect x="1550" y="157" width="25" height="12" fill="#aaff55"/>
<rect x="1575" y="157" width="13" height="12" fill="#ffff00"/>
<rect x="1588" y="157" width="13" height="12" fill="#ff8200"/>
<rect x="1305" y="169" width="13" height="11" fill="#ff0000"/>
<rect x="1318" y="169" width="13" height="11" fill="#ffaa00"/>
<rect x="1331" y="169" width="13" height="11" fill="#aaff55"/>
<rect x="1344" y="169" width="13" height="11" fill="#55ffaa"/>
<rect x="1357" y="169" width="13" height="11" fill="#00ffff"/>
<rect x="1370" y="169" width="13" height="11" fill="#00cdff"/>
<rect x="1383" y="169" width="12" height="11" fill="#00ffff"/>
<rect x="1395" y="169" width="13" height="11" fill="#55ffaa"/>
<rect x="1408" y="169" width="13" height="11" fill="#80ff80"/>
<rect x="1498" y="169" width="13" height="11" fill="#ff2800"/>
<rect x="1511" y="169" width="13" height="11" fill="#ffaa00"/>
<rect x="1524" y="169" width="13" height="11" fill="#d7ff28"/>
<rect x="1537" y="169" width="13" height="11" fill="#80ff80"/>
<rect x="1550" y="169" width="25" height="11" fill="#55ffaa"/>
<rect x="1575" y="169" width="13" height="11" fill="#aaff55"/>
<rect x="1588" y="169" width="13" height="11" fill="#ffd700"/>
<rect x="1601" y="169" width="13" height="11" fill="#ff2800"/>
<rect x="1305" y="180" width="13" height="11" fill="#ff5500"/>
<rect x="1318" y="180" width="13" height="11" fill="#ffff00"/>
<rect x="1331" y="180" width="13" height="11" fill="#80ff80"/>
<rect x="1344" y="180" width="13" height="11" fill="#0096ff"/>
<rect x="1357" y="180" width="26" height="11" fill="#0032ff"/>
<rect x="1383" y="180" width="12" height="11" fill="#0096ff"/>
<rect x="1395" y="180" width="13" height="11" fill="#00ffff"/>
<rect x="1408" y="180" width="13" height="11" fill="#80ff80"/>
<rect x="1421" y="180" width="13" height="11" fill="#d7ff28"/>
<rect x="1485" y="180" width="13" height="11" fill="#ff2800"/>
<rect x="1498" y="180" width="13" height="11" fill="#ff8200"/>
<rect x="1511" y="180" width="13" height="11" fill="#ffff00"/>
<rect x="1524" y="180" width="13" height="11" fill="#80ff80"/>
<rect x="1537" y="180" width="13" height="11" fill="#28ffd7"/>
<rect x="1550" y="180" width="12" height="11" fill="#00cdff"/>
<rect x="1562" y="180" width="13" height="11" fill="#00ffff"/>
<rect x="1575" y="180" width="13" height="11" fill="#80ff80"/>
<rect x="1588" y="180" width="13" height="11" fill="#d7ff28"/>
<rect x="1601" y="180" width="13" height="11" fill="#ff5500"/>
<rect x="1305" y="191" width="13" height="12" fill="#ffaa00"/>
<rect x="1318" y="191" width="13" height="12" fill="#aaff55"/>
<rect x="1331" y="191" width="13" height="12" fill="#00ffff"/>
<rect x="1344" y="191" width="39" height="12" fill="#0000ff"/>
<rect x="1383" y="191" width="12" height="12" fill="#0032ff"/>
<rect x="1395" y="191" width="13" height="12" fill="#00cdff"/>
<rect x="1408" y="191" width="13" height="12" fill="#55ffaa"/>
<rect x="1421" y="191" width="13" height="12" fill="#d7ff28"/>
<rect x="1485" y="191" width="13" height="12" fill="#ff5500"/>
<rect x="1498" y="191" width="13" height="12" fill="#ffaa00"/>
<rect x="1511" y="191" width="13" height="12" fill="#aaff55"/>
<rect x="1524" y="191" width="13" height="12" fill="#55ffaa"/>
<rect x="1537" y="191" width="13" height="12" fill="#00cdff"/>
<rect x="1550" y="191" width="12" height="12" fill="#0032ff"/>
<rect x="1562" y="191" width="13" height="12" fill="#0069ff"/>
<rect x="1575" y="191" width="13" height="12" fill="#00ffff"/>
<rect x="1588" y="191" width="13" height="12" fill="#aaff55"/>
<rect x="1601" y="191" width="13" height="12" fill="#ffaa00"/>
<rect x="1293" y="203" width="12" height="11" fill="#ff2800"/>
<rect x="1305" y="203" width="13" height="11" fill="#ffd700"/>
<rect x="1318" y="203" width="13" height="11" fill="#80ff80"/>
<rect x="1331" y="203" width="13" height="11" fill="#0069ff"/>
<rect x="1344" y="203" width="39" height="11" fill="#0000ff"/>
<rect x="1383" y="203" width="12" height="11" fill="#0032ff"/>
<rect x="1395" y="203" width="13" height="11" fill="#00cdff"/>
<rect x="1408" y="203" width="13" height="11" fill="#55ffaa"/>
<rect x="1421" y="203" width="13" height="11" fill="#d7ff28"/>
<rect x="1485" y="203" width="13" height="11" fill="#ff8200"/>
<rect x="1498" y="203" width="13" height="11" fill="#ffff00"/>
<rect x="1511" y="203" width="13" height="11" fill="#aaff55"/>
<rect x="1524" y="203" width="13" height="11" fill="#28ffd7"/>
<rect x="1537" y="203" width="13" height="11" fill="#0069ff"/>
<rect x="1550" y="203" width="12" height="11" fill="#0000ff"/>
<rect x="1562" y="203" width="13" height="11" fill="#0032ff"/>
<rect x="1575" y="203" width="13" height="11" fill="#00cdff"/>
<rect x="1588" y="203" width="13" height="11" fill="#80ff80"/>
<rect x="1601" y="203" width="13" height="11" fill="#ffd700"/>
<rect x="1614" y="203" width="13" height="11" fill="#ff2800"/>
<rect x="1293" y="214" width="12" height="11" fill="#ff5500"/>
<rect x="1305" y="214" width="13" height="11" fill="#d7ff28"/>
<rect x="1318" y="214" width="13" height="11" fill="#55ffaa"/>
<rect x="1331" y="214" width="13" height="11" fill="#0032ff"/>
<rect x="1344" y="214" width="39" height="11" fill="#0000ff"/>
<rect x="1383" y="214" width="12" height="11" fill="#0032ff"/>
<rect x="1395" y="214" width="13" height="11" fill="#00ffff"/>
<rect x="1408" y="214" width="13" height="11" fill="#80ff80"/>
<rect x="1421" y="214" width="13" height="11" fill="#d7ff28"/>
<rect x="1485" y="214" width="13" height="11" fill="#ffd700"/>
<rect x="1498" y="214" width="13" height="11" fill="#d7ff28"/>
<rect x="1511" y="214" width="13" height="11" fill="#80ff80"/>
<rect x="1524" y="214" width="13" height="11" fill="#00ffff"/>
<rect x="1537" y="214" width="13" height="11" fill="#0032ff"/>
<rect x="1550" y="214" width="25" height="11" fill="#0000ff"/>
<rect x="1575" y="214" width="13" height="11" fill="#0069ff"/>
<rect x="1588" y="214" width="13" height="11" fill="#55ffaa"/>
<rect x="1601" y="214" width="13" height="11" fill="#ffff00"/>
<rect x="1614" y="214" width="13" height="11" fill="#ff5500"/>
<rect x="1293" y="225" width="12" height="12" fill="#ff5500"/>
<rect x="1305" y="225" width="13" height="12" fill="#d7ff28"/>
<rect x="1318" y="225" width="13" height="12" fill="#00ffff"/>
<rect x="1331" y="225" width="52" height="12" fill="#0000ff"/>
<rect x="1383" y="225" width="12" height="12" fill="#0069ff"/>
<rect x="1395" y="225" width="13" height="12" fill="#28ffd7"/>
<rect x="1408" y="225" width="13" height="12" fill="#80ff80"/>
<rect x="1421" y="225" width="13" height="12" fill="#d7ff28"/>
<rect x="1434" y="225" width="13" height="12" fill="#ffd700"/>
<rect x="1472" y="225" width="13" height="12" fill="#ffaa00"/>
<rect x="1485" y="225" width="13" height="12" fill="#ffff00"/>
<rect x="1498" y="225" width="13" height="12" fill="#aaff55"/>
<rect x="1511" y="225" width="13" height="12" fill="#80ff80"/>
<rect x="1524" y="225" width="13" height="12" fill="#00ffff"/>
<rect x="1537" y="225" width="13" height="12" fill="#0032ff"/>
<rect x="1550" y="225" width="25" height="12" fill="#0000ff"/>
<rect x="1575" y="225" width="13" height="12" fill="#0069ff"/>
<rect x="1588" y="225" width="13" height="12" fill="#55ffaa"/>
<rect x="1601" y="225" width="13" height="12" fill="#d7ff28"/>
<rect x="1614" y="225" width="13" height="12" fill="#ff5500"/>
<rect x="1293" y="237" width="12" height="11" fill="#ff8200"/>
<rect x="1305" y="237" width="13" height="11" fill="#d7ff28"/>
<rect x="1318" y="237" width="13" height="11" fill="#00ffff"/>
<rect x="1331" y="237" width="52" height="11" fill="#0000ff"/>
<rect x="1383" y="237" width="12" height="11" fill="#0069ff"/>
<rect x="1395" y="237" width="13" height="11" fill="#28ffd7"/>
<rect x="1408" y="237" width="13" height="11" fill="#80ff80"/>
<rect x="1421" y="237" width="13" height="11" fill="#d7ff28"/>
<rect x="1434" y="237" width="38" height="11" fill="#ffd700"/>
<rect x="1472" y="237" width="13" height="11" fill="#ffec00"/>
<rect x="1485" y="237" width="13" height="11" fill="#ecff14"/>
<rect x="1498" y="237" width="13" height="11" fill="#aaff55"/>
<rect x="1511" y="237" width="13" height="11" fill="#55ffaa"/>
<rect x="1524" y="237" width="13" height="11" fill="#00ffff"/>
<rect x="1537" y="237" width="13" height="11" fill="#0032ff"/>
<rect x="1550" y="237" width="25" height="11" fill="#0000ff"/>
<rect x="1575" y="237" width="13" height="11" fill="#0069ff"/>
<rect x="1588" y="237" width="13" height="11" fill="#28ffd7"/>
<rect x="1601" y="237" width="13" height="11" fill="#d7ff28"/>
<rect x="1614" y="237" width="13" height="11" fill="#ff5500"/>
<rect x="1293" y="248" width="12" height="11" fill="#ff8200"/>
<rect x="1305" y="248" width="13" height="11" fill="#d7ff28"/>
<rect x="1318" y="248" width="13" height="11" fill="#00ffff"/>
<rect x="1331" y="248" width="13" height="11" fill="#0032ff"/>
<rect x="1344" y="248" width="26" height="11" fill="#0000ff"/>
<rect x="1370" y="248" width="13" height="11" fill="#0032ff"/>
<rect x="1383" y="248" width="12" height="11" fill="#0096ff"/>
<rect x="1395" y="248" width="13" height="11" fill="#55ffaa"/>
<rect x="1408" y="248" width="13" height="11" fill="#aaff55"/>
<rect x="1421" y="248" width="13" height="11" fill="#ecff14"/>
<rect x="1434" y="248" width="13" height="11" fill="#ffec00"/>
<rect x="1447" y="248" width="13" height="11" fill="#ffd700"/>
<rect x="1460" y="248" width="12" height="11" fill="#ffec00"/>
<rect x="1472" y="248" width="13" height="11" fill="#ffff00"/>
<rect x="1485" y="248" width="13" height="11" fill="#d7ff28"/>
<rect x="1498" y="248" width="13" height="11" fill="#aaff55"/>
<rect x="1511" y="248" width="13" height="11" fill="#55ffaa"/>
<rect x="1524" y="248" width="13" height="11" fill="#00ffff"/>
<rect x="1537" y="248" width="13" height="11" fill="#0069ff"/>
<rect x="1550" y="248" width="25" height="11" fill="#0032ff"/>
<rect x="1575" y="248" width="13" height="11" fill="#0096ff"/>
<rect x="1588" y="248" width="13" height="11" fill="#55ffaa"/>
<rect x="1601" y="248" width="13" height="11" fill="#d7ff28"/>
<rect x="1614" y="248" width="13" height="11" fill="#ff5500"/>
<rect x="1293" y="259" width="12" height="12" fill="#ff8200"/>
<rect x="1305" y="259" width="13" height="12" fill="#d7ff28"/>
<rect x="1318" y="259" width="13" height="12" fill="#28ffd7"/>
<rect x="1331" y="259" width="13" height="12" fill="#0032ff"/>
<rect x="1344" y="259" width="26" height="12" fill="#0000ff"/>
<rect x="1370" y="259" width="13" height="12" fill="#0069ff"/>
<rect x="1383" y="259" width="12" height="12" fill="#00ffff"/>
<rect x="1395" y="259" width="13" height="12" fill="#80ff80"/>
<rect x="1408" y="259" width="13" height="12" fill="#d7ff28"/>
<rect x="1421" y="259" width="13" height="12" fill="#ecff14"/>
<rect x="1434" y="259" width="26" height="12" fill="#ffec00"/>
<rect x="1460" y="259" width="12" height="12" fill="#ffff00"/>
<rect x="1472" y="259" width="13" height="12" fill="#ecff14"/>
<rect x="1485" y="259" width="13" height="12" fill="#d7ff28"/>
<rect x="1498" y="259" width="13" height="12" fill="#aaff55"/>
<rect x="1511" y="259" width="13" height="12" fill="#80ff80"/>
<rect x="1524" y="259" width="13" height="12" fill="#00ffff"/>
<rect x="1537" y="259" width="13" height="12" fill="#00cdff"/>
<rect x="1550" y="259" width="25" height="12" fill="#0096ff"/>
<rect x="1575" y="259" width="13" height="12" fill="#00ffff"/>
<rect x="1588" y="259" width="13" height="12" fill="#80ff80"/>
<rect x="1601" y="259" width="13" height="12" fill="#ffff00"/>
<rect x="1614" y="259" width="13" height="12" fill="#ff2800"/>
<rect x="1293" y="271" width="12" height="11" fill="#ff8200"/>
<rect x="1305" y="271" width="13" height="11" fill="#ffff00"/>
<rect x="1318" y="271" width="13" height="11" fill="#55ffaa"/>
<rect x="1331" y="271" width="13" height="11" fill="#0096ff"/>
<rect x="1344" y="271" width="13" height="11" fill="#0032ff"/>
<rect x="1357" y="271" width="13" height="11" fill="#0069ff"/>
<rect x="1370" y="271" width="13" height="11" fill="#00cdff"/>
<rect x="1383" y="271" width="12" height="11" fill="#28ffd7"/>
<rect x="1395" y="271" width="13" height="11" fill="#80ff80"/>
<rect x="1408" y="271" width="13" height="11" fill="#d7ff28"/>
<rect x="1421" y="271" width="13" height="11" fill="#ecff14"/>
<rect x="1434" y="271" width="38" height="11" fill="#ffff00"/>
<rect x="1472" y="271" width="13" height="11" fill="#ecff14"/>
<rect x="1485" y="271" width="13" height="11" fill="#d7ff28"/>
<rect x="1498" y="271" width="13" height="11" fill="#aaff55"/>
<rect x="1511" y="271" width="13" height="11" fill="#80ff80"/>
<rect x="1524" y="271" width="13" height="11" fill="#28ffd7"/>
<rect x="1537" y="271" width="38" height="11" fill="#00ffff"/>
<rect x="1575" y="271" width="13" height="11" fill="#55ffaa"/>
<rect x="1588" y="271" width="13" height="11" fill="#aaff55"/>
<rect x="1601" y="271" width="13" height="11" fill="#ffaa00"/>
<rect x="1614" y="271" width="13" height="11" fill="#ff2800"/>
<rect x="1293" y="282" width="12" height="12" fill="#ff5500"/>
<rect x="1305" y="282" width="13" height="12" fill="#ffff00"/>
<rect x="1318" y="282" width="13" height="12" fill="#aaff55"/>
<rect x="1331" y="282" width="13" height="12" fill="#00ffff"/>
<rect x="1344" y="282" width="13" height="12" fill="#0096ff"/>
<rect x="1357" y="282" width="13" height="12" fill="#00cdff"/>
<rect x="1370" y="282" width="13" height="12" fill="#28ffd7"/>
<rect x="1383" y="282" width="12" height="12" fill="#80ff80"/>
<rect x="1395" y="282" width="13" height="12" fill="#aaff55"/>
<rect x="1408" y="282" width="13" height="12" fill="#d7ff28"/>
<rect x="1421" y="282" width="13" height="12" fill="#ecff14"/>
<rect x="1434" y="282" width="13" height="12" fill="#ffff00"/>
<rect x="1447" y="282" width="13" height="12" fill="#ffec00"/>
<rect x="1460" y="282" width="25" height="12" fill="#ffff00"/>
<rect x="1485" y="282" width="13" height="12" fill="#ecff14"/>
<rect x="1498" y="282" width="13" height="12" fill="#d7ff28"/>
<rect x="1511" y="282" width="13" height="12" fill="#aaff55"/>
<rect x="1524" y="282" width="13" height="12" fill="#80ff80"/>
<rect x="1537" y="282" width="38" height="12" fill="#55ffaa"/>
<rect x="1575" y="282" width="13" height="12" fill="#80ff80"/>
<rect x="1588" y="282" width="13" height="12" fill="#d7ff28"/>
<rect x="1601" y="282" width="13" height="12" fill="#ff8200"/>
<rect x="1614" y="282" width="13" height="12" fill="#ff0000"/>
<rect x="1293" y="294" width="12" height="11" fill="#ff2800"/>
<rect x="1305" y="294" width="13" height="11" fill="#ffd700"/>
<rect x="1318" y="294" width="13" height="11" fill="#aaff55"/>
<rect x="1331" y="294" width="13" height="11" fill="#55ffaa"/>
<rect x="1344" y="294" width="26" height="11" fill="#28ffd7"/>
<rect x="1370" y="294" width="13" height="11" fill="#55ffaa"/>
<rect x="1383" y="294" width="12" height="11" fill="#aaff55"/>
<rect x="1395" y="294" width="13" height="11" fill="#d7ff28"/>
<rect x="1408" y="294" width="13" height="11" fill="#ecff14"/>
<rect x="1421" y="294" width="13" height="11" fill="#ffff00"/>
<rect x="1434" y="294" width="13" height="11" fill="#ffec00"/>
<rect x="1447" y="294" width="25" height="11" fill="#ffd700"/>
<rect x="1472" y="294" width="13" height="11" fill="#ffec00"/>
<rect x="1485" y="294" width="13" height="11" fill="#ffff00"/>
<rect x="1498" y="294" width="13" height="11" fill="#ecff14"/>
<rect x="1511" y="294" width="13" height="11" fill="#d7ff28"/>
<rect x="1524" y="294" width="51" height="11" fill="#aaff55"/>
<rect x="1575" y="294" width="13" height="11" fill="#d7ff28"/>
<rect x="1588" y="294" width="13" height="11" fill="#ffd700"/>
<rect x="1601" y="294" width="13" height="11" fill="#ff2800"/>
<rect x="1614" y="294" width="13" height="11" fill="#ff0000"/>
<rect x="1305" y="305" width="13" height="11" fill="#ff8200"/>
<rect x="1318" y="305" width="13" height="11" fill="#ffff00"/>
<rect x="1331" y="305" width="13" height="11" fill="#d7ff28"/>
<rect x="1344" y="305" width="13" height="11" fill="#aaff55"/>
<rect x="1357" y="305" width="13" height="11" fill="#80ff80"/>
<rect x="1370" y="305" width="13" height="11" fill="#aaff55"/>
<rect x="1383" y="305" width="12" height="11" fill="#d7ff28"/>
<rect x="1395" y="305" width="26" height="11" fill="#ffff00"/>
<rect x="1421" y="305" width="26" height="11" fill="#ffd700"/>
<rect x="1447" y="305" width="64" height="11" fill="#ffaa00"/>
<rect x="1511" y="305" width="13" height="11" fill="#ffd700"/>
<rect x="1524" y="305" width="13" height="11" fill="#ffff00"/>
<rect x="1537" y="305" width="25" height="11" fill="#d7ff28"/>
<rect x="1562" y="305" width="13" height="11" fill="#ffff00"/>
<rect x="1575" y="305" width="13" height="11" fill="#ffd700"/>
<rect x="1588" y="305" width="13" height="11" fill="#ff8200"/>
<rect x="1601" y="305" width="13" height="11" fill="#ff0000"/>
<rect x="1305" y="316" width="13" height="12" fill="#ff5500"/>
<rect x="1318" y="316" width="13" height="12" fill="#ffaa00"/>
<rect x="1331" y="316" width="13" height="12" fill="#ffff00"/>
<rect x="1344" y="316" width="39" height="12" fill="#d7ff28"/>
<rect x="1383" y="316" width="12" height="12" fill="#ffff00"/>
<rect x="1395" y="316" width="26" height="12" fill="#ffd700"/>
<rect x="1421" y="316" width="39" height="12" fill="#ffaa00"/>
<rect x="1460" y="316" width="12" height="12" fill="#ff8200"/>
<rect x="1472" y="316" width="39" height="12" fill="#ff5500"/>
<rect x="1511" y="316" width="13" height="12" fill="#ff8200"/>
<rect x="1524" y="316" width="51" height="12" fill="#ffaa00"/>
<rect x="1575" y="316" width="13" height="12" fill="#ff8200"/>
<rect x="1588" y="316" width="13" height="12" fill="#ff2800"/>
<rect x="1601" y="316" width="13" height="12" fill="#ff0000"/>
<rect x="1318" y="328" width="13" height="11" fill="#ff5500"/>
<rect x="1331" y="328" width="13" height="11" fill="#ff8200"/>
<rect x="1344" y="328" width="13" height="11" fill="#ffaa00"/>
<rect x="1357" y="328" width="26" height="11" fill="#ffd700"/>
<rect x="1383" y="328" width="38" height="11" fill="#ffaa00"/>
<rect x="1421" y="328" width="39" height="11" fill="#ff8200"/>
<rect x="1460" y="328" width="12" height="11" fill="#ff5500"/>
<rect x="1472" y="328" width="13" height="11" fill="#ff2800"/>
<rect x="1485" y="328" width="39" height="11" fill="#ff0000"/>
<rect x="1524" y="328" width="13" height="11" fill="#ff2800"/>
<rect x="1537" y="328" width="38" height="11" fill="#ff5500"/>
<rect x="1575" y="328" width="13" height="11" fill="#ff2800"/>
<rect x="1588" y="328" width="13" height="11" fill="#ff0000"/>
<rect x="1318" y="339" width="13" height="11" fill="#ff2800"/>
<rect x="1331" y="339" width="13" height="11" fill="#ff5500"/>
<rect x="1344" y="339" width="90" height="11" fill="#ff8200"/>
<rect x="1434" y="339" width="13" height="11" fill="#ff5500"/>
<rect x="1472" y="339" width="78" height="11" fill="#ff0000"/>
<rect x="1550" y="339" width="25" height="11" fill="#ff2800"/>
<rect x="1575" y="339" width="26" height="11" fill="#ff0000"/>
<rect x="1344" y="350" width="51" height="12" fill="#ff2800"/>
<rect x="1395" y="350" width="39" height="12" fill="#ff5500"/>
<rect x="1485" y="350" width="90" height="12" fill="#ff0000"/>
</g>
<g>
<rect x="1254.1" y="548.2" width="398.2" height="351.5" fill="#00008f"/>
<rect x="1331" y="605" width="13" height="11" fill="#0096ff"/>
<rect x="1344" y="605" width="13" height="11" fill="#00b4ff"/>
<rect x="1357" y="605" width="26" height="11" fill="#00e6ff"/>
<rect x="1537" y="605" width="25" height="11" fill="#0076ff"/>
<rect x="1562" y="605" width="26" height="11" fill="#00b4ff"/>
<rect x="1318" y="616" width="13" height="12" fill="#0076ff"/>
<rect x="1331" y="616" width="13" height="12" fill="#0096ff"/>
<rect x="1344" y="616" width="13" height="12" fill="#00b4ff"/>
<rect x="1357" y="616" width="26" height="12" fill="#00cdff"/>
<rect x="1383" y="616" width="12" height="12" fill="#00e6ff"/>
<rect x="1524" y="616" width="13" height="12" fill="#004bff"/>
<rect x="1537" y="616" width="25" height="12" fill="#0076ff"/>
<rect x="1562" y="616" width="13" height="12" fill="#0096ff"/>
<rect x="1575" y="616" width="26" height="12" fill="#00cdff"/>
<rect x="1318" y="628" width="26" height="11" fill="#0096ff"/>
<rect x="1344" y="628" width="39" height="11" fill="#00b4ff"/>
<rect x="1383" y="628" width="12" height="11" fill="#00cdff"/>
<rect x="1395" y="628" width="26" height="11" fill="#00e6ff"/>
<rect x="1498" y="628" width="13" height="11" fill="#001eff"/>
<rect x="1511" y="628" width="13" height="11" fill="#004bff"/>
<rect x="1524" y="628" width="38" height="11" fill="#0076ff"/>
<rect x="1562" y="628" width="26" height="11" fill="#0096ff"/>
<rect x="1588" y="628" width="13" height="11" fill="#00b4ff"/>
<rect x="1305" y="639" width="13" height="11" fill="#00b4ff"/>
<rect x="1318" y="639" width="26" height="11" fill="#0096ff"/>
<rect x="1344" y="639" width="39" height="11" fill="#00b4ff"/>
<rect x="1383" y="639" width="38" height="11" fill="#00cdff"/>
<rect x="1498" y="639" width="13" height="11" fill="#004bff"/>
<rect x="1511" y="639" width="39" height="11" fill="#0076ff"/>
<rect x="1550" y="639" width="64" height="11" fill="#0096ff"/>
<rect x="1305" y="650" width="90" height="12" fill="#00b4ff"/>
<rect x="1395" y="650" width="39" height="12" fill="#00cdff"/>
<rect x="1485" y="650" width="39" height="12" fill="#0076ff"/>
<rect x="1524" y="650" width="64" height="12" fill="#0096ff"/>
<rect x="1588" y="650" width="26" height="12" fill="#0076ff"/>
<rect x="1305" y="662" width="13" height="11" fill="#00cdff"/>
<rect x="1318" y="662" width="116" height="11" fill="#00b4ff"/>
<rect x="1485" y="662" width="90" height="11" fill="#0096ff"/>
<rect x="1575" y="662" width="39" height="11" fill="#0076ff"/>
<rect x="1293" y="673" width="12" height="11" fill="#00cdff"/>
<rect x="1305" y="673" width="129" height="11" fill="#00b4ff"/>
<rect x="1485" y="673" width="39" height="11" fill="#00b4ff"/>
<rect x="1524" y="673" width="51" height="11" fill="#0096ff"/>
<rect x="1575" y="673" width="52" height="11" fill="#0076ff"/>
<rect x="1293" y="684" width="25" height="12" fill="#00b4ff"/>
<rect x="1318" y="684" width="116" height="12" fill="#0096ff"/>
<rect x="1485" y="684" width="26" height="12" fill="#00e6ff"/>
<rect x="1511" y="684" width="26" height="12" fill="#00b4ff"/>
<rect x="1537" y="684" width="38" height="12" fill="#0096ff"/>
<rect x="1575" y="684" width="52" height="12" fill="#0076ff"/>
<rect x="1293" y="696" width="102" height="11" fill="#0096ff"/>
<rect x="1395" y="696" width="26" height="11" fill="#0076ff"/>
<rect x="1421" y="696" width="26" height="11" fill="#0096ff"/>
<rect x="1472" y="696" width="13" height="11" fill="#55ffaa"/>
<rect x="1485" y="696" width="13" height="11" fill="#28ffd7"/>
<rect x="1498" y="696" width="13" height="11" fill="#00ffff"/>
<rect x="1511" y="696" width="13" height="11" fill="#00cdff"/>
<rect x="1524" y="696" width="26" height="11" fill="#00b4ff"/>
<rect x="1550" y="696" width="25" height="11" fill="#0096ff"/>
<rect x="1575" y="696" width="52" height="11" fill="#0076ff"/>
<rect x="1293" y="707" width="51" height="11" fill="#0076ff"/>
<rect x="1344" y="707" width="26" height="11" fill="#0096ff"/>
<rect x="1370" y="707" width="64" height="11" fill="#0076ff"/>
<rect x="1434" y="707" width="13" height="11" fill="#00b4ff"/>
<rect x="1447" y="707" width="13" height="11" fill="#00e6ff"/>
<rect x="1460" y="707" width="12" height="11" fill="#28ffd7"/>
<rect x="1472" y="707" width="13" height="11" fill="#55ffaa"/>
<rect x="1485" y="707" width="13" height="11" fill="#28ffd7"/>
<rect x="1498" y="707" width="13" height="11" fill="#00ffff"/>
<rect x="1511" y="707" width="13" height="11" fill="#00e6ff"/>
<rect x="1524" y="707" width="26" height="11" fill="#00b4ff"/>
<rect x="1550" y="707" width="38" height="11" fill="#0096ff"/>
<rect x="1588" y="707" width="39" height="11" fill="#0076ff"/>
<rect x="1293" y="718" width="141" height="12" fill="#0076ff"/>
<rect x="1434" y="718" width="13" height="12" fill="#00b4ff"/>
<rect x="1447" y="718" width="13" height="12" fill="#00e6ff"/>
<rect x="1460" y="718" width="12" height="12" fill="#28ffd7"/>
<rect x="1472" y="718" width="13" height="12" fill="#80ff80"/>
<rect x="1485" y="718" width="13" height="12" fill="#55ffaa"/>
<rect x="1498" y="718" width="13" height="12" fill="#28ffd7"/>
<rect x="1511" y="718" width="13" height="12" fill="#00ffff"/>
<rect x="1524" y="718" width="13" height="12" fill="#00cdff"/>
<rect x="1537" y="718" width="13" height="12" fill="#00b4ff"/>
<rect x="1550" y="718" width="38" height="12" fill="#0096ff"/>
<rect x="1588" y="718" width="39" height="12" fill="#0076ff"/>
<rect x="1293" y="730" width="128" height="11" fill="#0076ff"/>
<rect x="1421" y="730" width="13" height="11" fill="#0096ff"/>
<rect x="1434" y="730" width="13" height="11" fill="#00b4ff"/>
<rect x="1447" y="730" width="13" height="11" fill="#00ffff"/>
<rect x="1460" y="730" width="12" height="11" fill="#55ffaa"/>
<rect x="1472" y="730" width="26" height="11" fill="#80ff80"/>
<rect x="1498" y="730" width="13" height="11" fill="#55ffaa"/>
<rect x="1511" y="730" width="13" height="11" fill="#00ffff"/>
<rect x="1524" y="730" width="13" height="11" fill="#00e6ff"/>
<rect x="1537" y="730" width="13" height="11" fill="#00cdff"/>
<rect x="1550" y="730" width="25" height="11" fill="#0096ff"/>
<rect x="1575" y="730" width="39" height="11" fill="#0076ff"/>
<rect x="1614" y="730" width="13" height="11" fill="#004bff"/>
<rect x="1293" y="741" width="115" height="11" fill="#0076ff"/>
<rect x="1408" y="741" width="26" height="11" fill="#0096ff"/>
<rect x="1434" y="741" width="13" height="11" fill="#00b4ff"/>
<rect x="1447" y="741" width="13" height="11" fill="#00ffff"/>
<rect x="1460" y="741" width="12" height="11" fill="#55ffaa"/>
<rect x="1472" y="741" width="26" height="11" fill="#80ff80"/>
<rect x="1498" y="741" width="13" height="11" fill="#55ffaa"/>
<rect x="1511" y="741" width="13" height="11" fill="#28ffd7"/>
<rect x="1524" y="741" width="13" height="11" fill="#00e6ff"/>
<rect x="1537" y="741" width="13" height="11" fill="#00cdff"/>
<rect x="1550" y="741" width="12" height="11" fill="#00b4ff"/>
<rect x="1562" y="741" width="13" height="11" fill="#0096ff"/>
<rect x="1575" y="741" width="39" height="11" fill="#0076ff"/>
<rect x="1614" y="741" width="13" height="11" fill="#004bff"/>
<rect x="1293" y="752" width="77" height="12" fill="#0076ff"/>
<rect x="1370" y="752" width="51" height="12" fill="#0096ff"/>
<rect x="1421" y="752" width="13" height="12" fill="#00b4ff"/>
<rect x="1434" y="752" width="13" height="12" fill="#00e6ff"/>
<rect x="1447" y="752" width="13" height="12" fill="#28ffd7"/>
<rect x="1460" y="752" width="12" height="12" fill="#55ffaa"/>
<rect x="1472" y="752" width="26" height="12" fill="#80ff80"/>
<rect x="1498" y="752" width="13" height="12" fill="#55ffaa"/>
<rect x="1511" y="752" width="13" height="12" fill="#00ffff"/>
<rect x="1524" y="752" width="13" height="12" fill="#00e6ff"/>
<rect x="1537" y="752" width="13" height="12" fill="#00cdff"/>
<rect x="1550" y="752" width="12" height="12" fill="#00b4ff"/>
<rect x="1562" y="752" width="13" height="12" fill="#0096ff"/>
<rect x="1575" y="752" width="26" height="12" fill="#0076ff"/>
<rect x="1601" y="752" width="26" height="12" fill="#004bff"/>
<rect x="1293" y="764" width="51" height="11" fill="#0076ff"/>
<rect x="1344" y="764" width="51" height="11" fill="#0096ff"/>
<rect x="1395" y="764" width="26" height="11" fill="#00b4ff"/>
<rect x="1421" y="764" width="13" height="11" fill="#00e6ff"/>
<rect x="1434" y="764" width="13" height="11" fill="#00ffff"/>
<rect x="1447" y="764" width="13" height="11" fill="#28ffd7"/>
<rect x="1460" y="764" width="12" height="11" fill="#55ffaa"/>
<rect x="1472" y="764" width="13" height="11" fill="#80ff80"/>
<rect x="1485" y="764" width="26" height="11" fill="#55ffaa"/>
<rect x="1511" y="764" width="13" height="11" fill="#00ffff"/>
<rect x="1524" y="764" width="26" height="11" fill="#00cdff"/>
<rect x="1550" y="764" width="25" height="11" fill="#0096ff"/>
<rect x="1575" y="764" width="26" height="11" fill="#0076ff"/>
<rect x="1601" y="764" width="26" height="11" fill="#004bff"/>
<rect x="1305" y="775" width="39" height="11" fill="#0076ff"/>
<rect x="1344" y="775" width="26" height="11" fill="#0096ff"/>
<rect x="1370" y="775" width="25" height="11" fill="#00b4ff"/>
<rect x="1395" y="775" width="13" height="11" fill="#00cdff"/>
<rect x="1408" y="775" width="13" height="11" fill="#00e6ff"/>
<rect x="1421" y="775" width="13" height="11" fill="#00ffff"/>
<rect x="1434" y="775" width="13" height="11" fill="#28ffd7"/>
<rect x="1447" y="775" width="25" height="11" fill="#55ffaa"/>
<rect x="1472" y="775" width="13" height="11" fill="#80ff80"/>
<rect x="1485" y="775" width="13" height="11" fill="#55ffaa"/>
<rect x="1498" y="775" width="13" height="11" fill="#28ffd7"/>
<rect x="1511" y="775" width="13" height="11" fill="#00ffff"/>
<rect x="1524" y="775" width="13" height="11" fill="#00cdff"/>
<rect x="1537" y="775" width="13" height="11" fill="#00b4ff"/>
<rect x="1550" y="775" width="25" height="11" fill="#0096ff"/>
<rect x="1575" y="775" width="26" height="11" fill="#0076ff"/>
<rect x="1601" y="775" width="13" height="11" fill="#004bff"/>
<rect x="1305" y="786" width="26" height="12" fill="#0076ff"/>
<rect x="1331" y="786" width="26" height="12" fill="#0096ff"/>
<rect x="1357" y="786" width="26" height="12" fill="#00b4ff"/>
<rect x="1383" y="786" width="12" height="12" fill="#00cdff"/>
<rect x="1395" y="786" width="13" height="12" fill="#00ffff"/>
<rect x="1408" y="786" width="26" height="12" fill="#28ffd7"/>
<rect x="1434" y="786" width="51" height="12" fill="#55ffaa"/>
<rect x="1485" y="786" width="13" height="12" fill="#28ffd7"/>
<rect x="1498" y="786" width="13" height="12" fill="#00ffff"/>
<rect x="1511" y="786" width="13" height="12" fill="#00e6ff"/>
<rect x="1524" y="786" width="26" height="12" fill="#00b4ff"/>
<rect x="1550" y="786" width="25" height="12" fill="#0096ff"/>
<rect x="1575" y="786" width="39" height="12" fill="#0076ff"/>
<rect x="1318" y="798" width="13" height="11" fill="#0076ff"/>
<rect x="1331" y="798" width="26" height="11" fill="#0096ff"/>
<rect x="1357" y="798" width="13" height="11" fill="#00b4ff"/>
<rect x="1370" y="798" width="13" height="11" fill="#00cdff"/>
<rect x="1383" y="798" width="12" height="11" fill="#00ffff"/>
<rect x="1395" y="798" width="13" height="11" fill="#28ffd7"/>
<rect x="1408" y="798" width="64" height="11" fill="#55ffaa"/>
<rect x="1472" y="798" width="13" height="11" fill="#28ffd7"/>
<rect x="1485" y="798" width="26" height="11" fill="#00ffff"/>
<rect x="1511" y="798" width="13" height="11" fill="#00b4ff"/>
<rect x="1524" y="798" width="13" height="11" fill="#0096ff"/>
<rect x="1537" y="798" width="25" height="11" fill="#0076ff"/>
<rect x="1562" y="798" width="39" height="11" fill="#0096ff"/>
<rect x="1318" y="809" width="13" height="11" fill="#0076ff"/>
<rect x="1331" y="809" width="26" height="11" fill="#0096ff"/>
<rect x="1357" y="809" width="13" height="11" fill="#00b4ff"/>
<rect x="1370" y="809" width="13" height="11" fill="#00e6ff"/>
<rect x="1383" y="809" width="12" height="11" fill="#28ffd7"/>
<rect x="1395" y="809" width="39" height="11" fill="#55ffaa"/>
<rect x="1434" y="809" width="13" height="11" fill="#80ff80"/>
<rect x="1472" y="809" width="13" height="11" fill="#55ffaa"/>
<rect x="1485" y="809" width="13" height="11" fill="#00ffff"/>
<rect x="1498" y="809" width="13" height="11" fill="#00cdff"/>
<rect x="1511" y="809" width="13" height="11" fill="#00b4ff"/>
<rect x="1524" y="809" width="13" height="11" fill="#0096ff"/>
<rect x="1537" y="809" width="51" height="11" fill="#0076ff"/>
<rect x="1588" y="809" width="13" height="11" fill="#00b4ff"/>
<rect x="1344" y="820" width="13" height="12" fill="#0096ff"/>
<rect x="1357" y="820" width="13" height="12" fill="#00b4ff"/>
<rect x="1370" y="820" width="13" height="12" fill="#00ffff"/>
<rect x="1383" y="820" width="38" height="12" fill="#55ffaa"/>
<rect x="1421" y="820" width="13" height="12" fill="#80ff80"/>
<rect x="1485" y="820" width="13" height="12" fill="#00ffff"/>
<rect x="1498" y="820" width="26" height="12" fill="#00b4ff"/>
<rect x="1524" y="820" width="13" height="12" fill="#0096ff"/>
<rect x="1537" y="820" width="38" height="12" fill="#0076ff"/>
</g>
<rect x="1676.7" y="78.3" width="39.9" height="351.0" fill="url(#gf)" stroke="#1a1a1a" stroke-width="1"/>
<text x="1728.6" y="442.7" font-size="28" fill="#404040">0</text>
<line x1="1713.6" y1="299.4" x2="1716.6" y2="299.4" stroke="#1a1a1a" stroke-width="1"/>
<text x="1728.6" y="312.3" font-size="28" fill="#404040">5</text>
<line x1="1713.6" y1="169.1" x2="1716.6" y2="169.1" stroke="#1a1a1a" stroke-width="1"/>
<text x="1728.6" y="182.0" font-size="28" fill="#404040">10</text>
<rect x="1676.7" y="548.7" width="39.9" height="350.5" fill="url(#gj)" stroke="#1a1a1a" stroke-width="1"/>
<text x="1728.6" y="912.6" font-size="28" fill="#404040">0</text>
<line x1="1713.6" y1="811.8" x2="1716.6" y2="811.8" stroke="#1a1a1a" stroke-width="1"/>
<text x="1728.6" y="824.7" font-size="28" fill="#404040">0.5</text>
<line x1="1713.6" y1="724.0" x2="1716.6" y2="724.0" stroke="#1a1a1a" stroke-width="1"/>
<text x="1728.6" y="736.9" font-size="28" fill="#404040">1</text>
<line x1="1713.6" y1="636.1" x2="1716.6" y2="636.1" stroke="#1a1a1a" stroke-width="1"/>
<text x="1728.6" y="649.0" font-size="28" fill="#404040">1.5</text>
<text x="1728.6" y="561.1" font-size="28" fill="#404040">2</text>
<text x="1196.0" y="59.8" font-size="70">C</text>
<text x="1361.1" y="52.6" font-size="33.3" font-weight="bold">FVC</text><text x="1430.1" y="67.8" font-size="27.3" font-weight="bold">EIT</text><text x="1481.4" y="52.6" font-size="33.3" font-weight="bold" letter-spacing="0.9">(ml)</text>
<text x="1453.2" y="536.1" font-size="33" font-weight="bold" text-anchor="middle">T75 (s)</text>
<text transform="translate(1214.4,466.4) scale(1,1.075)" font-size="34" text-anchor="start">GI: 0.39</text>
<text transform="translate(1656.1,466.4) scale(1,1.075)" font-size="34.2" text-anchor="end">CoV: 49.52</text>
<text transform="translate(1214.4,936.0) scale(1,1.075)" font-size="34" text-anchor="start">GI: 0.16</text>
<text transform="translate(1533.1,933.0) scale(1,1.075)" font-size="34.2" text-anchor="start">mean:</text>
<text transform="translate(1640.9,936.1) scale(1,1.05)" font-size="33.5" text-anchor="start">0.6 s</text>
</svg>
</body></html>
